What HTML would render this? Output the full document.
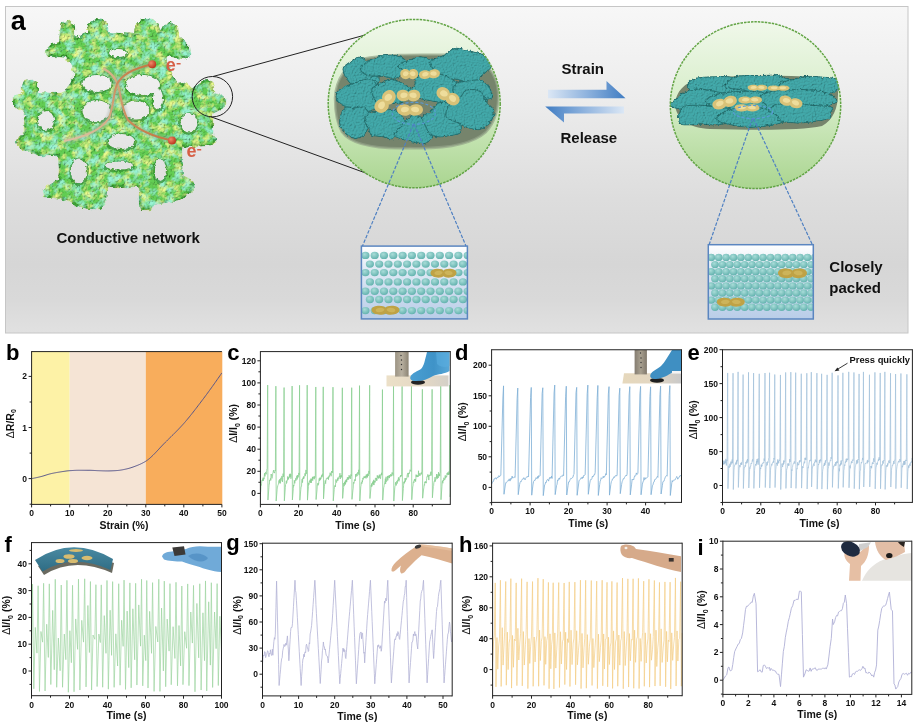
<!DOCTYPE html>
<html><head><meta charset="utf-8"><style>
html,body{margin:0;padding:0;background:#fff;}
svg{display:block;}
.tk{font-family:'Liberation Sans', Arial, sans-serif;font-weight:bold;font-size:8.5px;fill:#111;}
.at{font-family:'Liberation Sans', Arial, sans-serif;font-weight:bold;font-size:10.5px;fill:#111;}
.pl{font-family:'Liberation Sans', Arial, sans-serif;font-weight:bold;font-size:22px;fill:#000;}
.lb{font-family:'Liberation Sans', Arial, sans-serif;font-weight:bold;font-size:14px;fill:#111;}
</style></head><body>
<svg width="918" height="726" viewBox="0 0 918 726">
<rect width="918" height="726" fill="#fff"/>
<defs>
<linearGradient id="bgA" x1="0" y1="0" x2="0" y2="1">
 <stop offset="0" stop-color="#f7f7f7"/><stop offset="0.29" stop-color="#ececec"/><stop offset="0.59" stop-color="#dddddd"/><stop offset="0.79" stop-color="#d6d6d6"/><stop offset="0.9" stop-color="#d9d9d9"/><stop offset="1" stop-color="#e1e1e1"/>
</linearGradient>
<linearGradient id="bgU" gradientUnits="userSpaceOnUse" x1="0" y1="6.5" x2="0" y2="333">
 <stop offset="0" stop-color="#f7f7f7"/><stop offset="0.29" stop-color="#ececec"/><stop offset="0.59" stop-color="#dddddd"/><stop offset="0.79" stop-color="#d6d6d6"/><stop offset="0.9" stop-color="#d9d9d9"/><stop offset="1" stop-color="#e1e1e1"/>
</linearGradient>
<filter id="holeF" x="-20%" y="-20%" width="140%" height="140%">
 <feTurbulence type="fractalNoise" baseFrequency="0.3" numOctaves="2" seed="13" result="n"/>
 <feDisplacementMap in="SourceGraphic" in2="n" scale="4" xChannelSelector="R" yChannelSelector="G"/>
</filter>
<linearGradient id="circG" x1="0" y1="0" x2="0" y2="1">
 <stop offset="0" stop-color="#f0f8ea"/><stop offset="0.45" stop-color="#d8eecb"/><stop offset="1" stop-color="#aad590"/>
</linearGradient>
<linearGradient id="rectG" x1="0" y1="0" x2="0" y2="1">
 <stop offset="0" stop-color="#ffffff"/><stop offset="0.35" stop-color="#dde8f4"/><stop offset="1" stop-color="#b9cde8"/>
</linearGradient>
<linearGradient id="arR" x1="0" y1="0" x2="1" y2="0">
 <stop offset="0" stop-color="#dbe7f5"/><stop offset="0.5" stop-color="#8fb3de"/><stop offset="1" stop-color="#3f7cc2"/>
</linearGradient>
<linearGradient id="arL" x1="0" y1="0" x2="1" y2="0">
 <stop offset="0" stop-color="#3f7cc2"/><stop offset="0.5" stop-color="#8fb3de"/><stop offset="1" stop-color="#dbe7f5"/>
</linearGradient>
<radialGradient id="dotG" cx="0.4" cy="0.35" r="0.7">
 <stop offset="0" stop-color="#a8dcd8"/><stop offset="1" stop-color="#5fb0ac"/>
</radialGradient>
<radialGradient id="goldG" cx="0.45" cy="0.4" r="0.7">
 <stop offset="0" stop-color="#e8d27e"/><stop offset="1" stop-color="#b8a050"/>
</radialGradient>
<radialGradient id="redG" cx="0.35" cy="0.35" r="0.7">
 <stop offset="0" stop-color="#f08a6a"/><stop offset="1" stop-color="#b8321a"/>
</radialGradient>
<filter id="bumpy" x="-10%" y="-10%" width="120%" height="120%">
 <feTurbulence type="fractalNoise" baseFrequency="0.22" numOctaves="2" seed="3" result="n"/>
 <feDisplacementMap in="SourceGraphic" in2="n" scale="5" xChannelSelector="R" yChannelSelector="G" result="d"/>
 <feTurbulence type="fractalNoise" baseFrequency="0.12" numOctaves="3" seed="8" result="n2"/>
 <feColorMatrix in="n2" type="matrix" values="0 0 0 0 0.78  0 0 0 0 0.9  0 0 0 0 0.25  3.0 0 0 0 -1.35" result="yel"/>
 <feTurbulence type="fractalNoise" baseFrequency="0.12" numOctaves="3" seed="21" result="n3"/>
 <feColorMatrix in="n3" type="matrix" values="0 0 0 0 0.3  0 0 0 0 0.85  0 0 0 0 0.62  3.0 0 0 0 -1.35" result="teal"/>
 <feMerge result="col"><feMergeNode in="d"/><feMergeNode in="yel"/><feMergeNode in="teal"/></feMerge>
 <feTurbulence type="fractalNoise" baseFrequency="0.6" numOctaves="1" seed="5" result="t"/>
 <feDiffuseLighting in="t" surfaceScale="2.2" diffuseConstant="1.25" lighting-color="#ffffff" result="light"><feDistantLight azimuth="225" elevation="55"/></feDiffuseLighting>
 <feComposite in="col" in2="light" operator="arithmetic" k1="1.05" k2="0" k3="0" k4="0" result="lit"/>
 <feComposite in="lit" in2="d" operator="in"/>
</filter>
<filter id="fuzzy" x="-5%" y="-5%" width="110%" height="110%">
 <feTurbulence type="fractalNoise" baseFrequency="0.35" numOctaves="2" seed="5" result="n"/>
 <feDisplacementMap in="SourceGraphic" in2="n" scale="3.5" xChannelSelector="R" yChannelSelector="G" result="d"/>
 <feTurbulence type="fractalNoise" baseFrequency="0.9" numOctaves="1" seed="9" result="t"/>
 <feDiffuseLighting in="t" surfaceScale="1.6" diffuseConstant="1.15" lighting-color="#ffffff" result="light"><feDistantLight azimuth="225" elevation="55"/></feDiffuseLighting>
 <feComposite in="d" in2="light" operator="arithmetic" k1="1.1" k2="0" k3="0" k4="0" result="lit"/>
 <feComposite in="lit" in2="d" operator="in"/>
</filter>
<filter id="soft"><feGaussianBlur stdDeviation="1.2"/></filter>
<filter id="soft2"><feGaussianBlur stdDeviation="0.6"/></filter>
</defs>
<rect x="5.5" y="6.5" width="902.5" height="326.5" fill="url(#bgA)" stroke="#c6c6c6" stroke-width="1"/>
<text x="10.8" y="30" class="pl" style="font-size:27px">a</text>
<g filter="url(#bumpy)">
<path d="M48,49 L52,45 L60,43 L61,30 L63,23 L70,22 L74,28 L74,38 L80,37 L88,33 L89,24 L95,20 L103,21 L107,27 L107,33 L120,34 L135,35 L136,25 L142,20 L152,20 L157,24 L160,33 L164,26 L170,23 L177,27 L178,38 L184,43 L189,48 L190,55 L184,58 L176,57 L168,55 L164,60 L170,72 L177,84 L184,83 L188,86 L192,90 L199,84 L204,81 L211,82 L213,88 L213,93 L220,95 L225,99 L225,106 L218,110 L212,113 L212,125 L212,136 L215,140 L212,144 L205,145 L190,146 L181,147.5 L181,165 L182,176 L192,181 L194,188 L188,193 L178,200 L165,202 L152,204 L150,209 L142,209 L140,203 L140,186 L106,186 L105,203 L100,208 L90,208 L78,206 L68,200 L56,197 L45,196 L44,190 L50,184 L59,181 L60,170 L59,155 L50,155 L41,155 L30,151 L20,148 L17,143 L20,137 L25,134 L25,120 L25,111 L18,108 L14,104 L14,98 L19,95 L23,93 L23,86 L25,81 L32,80 L37,83 L37,93 L50,94 L63,94 L68,88 L74,80 L74,70 L70,62 L66,57 L58,56 L50,56 L47,53Z" fill="#60c951" stroke="#3d9e37" stroke-width="2.5" stroke-linejoin="round"/>
</g>
<g filter="url(#holeF)">
<ellipse cx="118" cy="53.8" rx="10.8" ry="5.8" fill="#2f8a2c" opacity="0.7"/>
<ellipse cx="97" cy="84.3" rx="16.3" ry="10.3" fill="#2f8a2c" opacity="0.7"/>
<ellipse cx="143" cy="85.8" rx="18.8" ry="11.8" fill="#2f8a2c" opacity="0.7"/>
<ellipse cx="158" cy="99.8" rx="6.8" ry="11.8" fill="#2f8a2c" opacity="0.7"/>
<ellipse cx="96.5" cy="111.5" rx="15.8" ry="12.3" fill="#2f8a2c" opacity="0.7"/>
<ellipse cx="136" cy="110.8" rx="14.8" ry="11.3" fill="#2f8a2c" opacity="0.7"/>
<ellipse cx="46" cy="121.3" rx="9.8" ry="11.3" fill="#2f8a2c" opacity="0.7"/>
<ellipse cx="121.5" cy="142.3" rx="15.3" ry="9.3" fill="#2f8a2c" opacity="0.7"/>
<ellipse cx="189" cy="123.5" rx="10.3" ry="11.3" fill="#2f8a2c" opacity="0.7"/>
<ellipse cx="79" cy="171.8" rx="9.8" ry="14.3" fill="#2f8a2c" opacity="0.7"/>
<ellipse cx="119" cy="166.3" rx="15.8" ry="5.8" fill="#2f8a2c" opacity="0.7"/>
<ellipse cx="160" cy="170.8" rx="7.8" ry="12.8" fill="#2f8a2c" opacity="0.7"/>
<ellipse cx="118" cy="53" rx="9" ry="4" fill="url(#bgU)"/>
<ellipse cx="97" cy="83.5" rx="14.5" ry="8.5" fill="url(#bgU)"/>
<ellipse cx="143" cy="85" rx="17" ry="10" fill="url(#bgU)"/>
<ellipse cx="158" cy="99" rx="5" ry="10" fill="url(#bgU)"/>
<ellipse cx="96.5" cy="110.7" rx="14" ry="10.5" fill="url(#bgU)"/>
<ellipse cx="136" cy="110" rx="13" ry="9.5" fill="url(#bgU)"/>
<ellipse cx="46" cy="120.5" rx="8" ry="9.5" fill="url(#bgU)"/>
<ellipse cx="121.5" cy="141.5" rx="13.5" ry="7.5" fill="url(#bgU)"/>
<ellipse cx="189" cy="122.7" rx="8.5" ry="9.5" fill="url(#bgU)"/>
<ellipse cx="79" cy="171" rx="8" ry="12.5" fill="url(#bgU)"/>
<ellipse cx="119" cy="165.5" rx="14" ry="4" fill="url(#bgU)"/>
<ellipse cx="160" cy="170" rx="6" ry="11" fill="url(#bgU)"/>
</g>
<linearGradient id="ep1" x1="0" y1="0" x2="0" y2="1"><stop offset="0" stop-color="#c47a44"/><stop offset="1" stop-color="#dcc0a0"/></linearGradient>
<linearGradient id="ep2" x1="0" y1="0" x2="0" y2="1"><stop offset="0" stop-color="#d8b48e"/><stop offset="1" stop-color="#c47a44"/></linearGradient>
<path d="M103.5,68.5 C110,72 115,77 118,85 C121,95 121,108 128,120 C140,132 160,138 172,140.5" fill="none" stroke="#9aa59a" stroke-width="6" opacity="0.35" filter="url(#soft)"/>
<path d="M152.2,64.2 C135,68 122,74 117,84 C113,95 114,105 109,118 C100,132 80,138 64,141" fill="none" stroke="#a8b0a8" stroke-width="6" opacity="0.45" filter="url(#soft)"/>
<path d="M103.5,68.5 C110,72 115,77 118,85 C121,95 121,108 128,120 C140,132 160,138 172,140.5" fill="none" stroke="url(#ep2)" stroke-width="2"/>
<path d="M152.2,64.2 C135,68 122,74 117,84 C113,95 114,105 109,118 C100,132 80,138 64,141" fill="none" stroke="url(#ep1)" stroke-width="2"/>
<circle cx="152.2" cy="64.2" r="4" fill="url(#redG)"/>
<circle cx="172" cy="140.5" r="4" fill="url(#redG)"/>
<text x="165.8" y="71.4" style="font-family:Liberation Sans,Arial,sans-serif;font-size:18px;fill:#d65f45;font-weight:bold">e</text><rect x="176.6" y="63" width="4" height="1.5" fill="#d65f45"/>
<text x="186.5" y="157.3" style="font-family:Liberation Sans,Arial,sans-serif;font-size:18px;fill:#d65f45;font-weight:bold">e</text><rect x="197.2" y="149" width="4" height="1.5" fill="#d65f45"/>
<circle cx="212.4" cy="96.7" r="20.2" fill="none" stroke="#222" stroke-width="1"/>
<line x1="213" y1="76.5" x2="367" y2="34.5" stroke="#222" stroke-width="1"/>
<line x1="211" y1="116.8" x2="367" y2="173.5" stroke="#222" stroke-width="1"/>
<text x="56.5" y="242.6" class="lb" style="font-size:15px">Conductive network</text>
<clipPath id="c414"><ellipse cx="414.2" cy="103.6" rx="86" ry="84.2"/></clipPath>
<ellipse cx="414.2" cy="103.6" rx="86" ry="84.2" fill="url(#circG)"/>
<g clip-path="url(#c414)">
<path d="M335,98 C336,80 345,66 362,59 C390,53 430,55 465,55 C485,57 497,75 498,92 C499,108 495,122 486,132 C470,146 440,149 410,148 C380,149 352,146 342,132 C336,122 335,110 335,98Z" fill="#76846c"/>
<path d="M335,98 C336,80 345,66 362,59 C390,53 430,55 465,55 C485,57 497,75 498,92 C499,108 495,122 486,132 C470,146 440,149 410,148 C380,149 352,146 342,132 C336,122 335,110 335,98Z" fill="none" stroke="#93a288" stroke-width="2.5" opacity="0.7"/>
<g filter="url(#fuzzy)"><path d="M378.7,73.0 C378.9,76.2 380.1,80.9 378.2,83.0 C376.4,85.1 371.0,84.2 367.7,85.6 C364.4,87.0 361.4,91.5 358.7,91.2 C355.9,91.0 353.2,86.5 351.1,84.2 C348.9,81.9 346.9,80.0 345.5,77.3 C344.2,74.7 342.3,70.7 343.1,68.0 C344.0,65.3 348.0,63.2 350.7,61.4 C353.3,59.6 356.2,57.1 359.0,57.0 C361.8,57.0 364.4,59.9 367.4,61.0 C370.4,62.1 375.3,61.6 377.2,63.6 C379.1,65.6 378.5,69.8 378.7,73.0Z" fill="#40a2a3" stroke="#25706f" stroke-width="1.1"/><path d="M406.6,66.5 C406.3,68.5 405.2,70.4 403.4,72.3 C401.6,74.3 399.5,77.6 395.9,78.2 C392.4,78.9 386.6,76.7 382.1,76.3 C377.6,75.8 372.6,76.6 369.0,75.6 C365.4,74.5 361.2,72.0 360.5,70.0 C359.8,68.0 363.0,65.4 364.9,63.6 C366.8,61.8 369.2,60.4 372.0,59.1 C374.9,57.9 378.0,56.6 381.9,56.0 C385.8,55.3 391.5,54.7 395.4,55.4 C399.3,56.0 403.4,58.2 405.3,60.1 C407.2,62.0 406.9,64.5 406.6,66.5Z" fill="#40a2a3" stroke="#25706f" stroke-width="1.1"/><path d="M446.1,66.5 C445.9,68.0 445.5,69.4 443.8,71.0 C442.1,72.5 439.9,74.9 436.0,75.7 C432.0,76.5 424.6,76.4 420.2,75.8 C415.8,75.3 412.9,73.5 409.5,72.4 C406.1,71.3 401.4,70.4 399.7,69.0 C398.0,67.6 397.7,65.4 399.3,63.9 C400.8,62.5 405.6,61.6 409.1,60.4 C412.5,59.2 416.0,56.9 420.0,56.7 C424.0,56.5 429.1,58.5 433.3,59.3 C437.4,60.2 442.8,60.6 445.0,61.7 C447.1,62.9 446.3,65.0 446.1,66.5Z" fill="#40a2a3" stroke="#25706f" stroke-width="1.1"/><path d="M491.7,66.0 C491.1,69.1 486.0,71.8 482.9,74.6 C479.8,77.4 477.5,82.1 473.0,82.9 C468.5,83.7 461.5,80.1 456.1,79.3 C450.8,78.6 444.3,80.0 440.6,78.4 C437.0,76.9 435.8,73.2 434.1,70.3 C432.3,67.4 428.4,63.5 430.0,61.0 C431.6,58.6 439.3,57.6 443.5,55.4 C447.6,53.3 450.4,48.9 455.0,48.2 C459.6,47.5 466.0,50.0 471.2,51.3 C476.4,52.7 482.8,53.7 486.2,56.2 C489.6,58.6 492.2,62.9 491.7,66.0Z" fill="#40a2a3" stroke="#25706f" stroke-width="1.1"/><path d="M384.0,96.5 C384.2,99.7 382.7,103.9 380.0,106.4 C377.3,108.9 372.2,110.7 368.1,111.6 C364.0,112.4 359.2,112.3 355.5,111.5 C351.8,110.8 348.9,108.7 345.9,106.9 C342.8,105.2 338.8,103.4 337.3,100.9 C335.9,98.5 335.7,94.5 337.1,92.0 C338.6,89.5 342.8,87.6 345.9,86.1 C349.0,84.6 351.8,84.1 355.8,82.8 C359.7,81.6 365.9,78.1 369.8,78.8 C373.6,79.5 376.5,84.2 378.9,87.1 C381.3,90.1 383.9,93.3 384.0,96.5Z" fill="#40a2a3" stroke="#25706f" stroke-width="1.1"/><path d="M414.4,92.0 C414.7,94.0 412.0,96.5 409.9,98.2 C407.8,100.0 404.9,101.7 401.7,102.6 C398.5,103.5 394.7,103.5 390.7,103.5 C386.7,103.6 380.6,104.2 377.6,102.8 C374.6,101.5 373.6,98.0 372.7,95.6 C371.9,93.2 371.1,90.4 372.4,88.3 C373.8,86.3 377.8,84.9 380.8,83.3 C383.8,81.8 387.0,79.3 390.4,79.1 C393.7,79.0 398.0,81.2 400.9,82.4 C403.9,83.6 405.8,84.9 408.1,86.5 C410.3,88.1 414.1,90.0 414.4,92.0Z" fill="#40a2a3" stroke="#25706f" stroke-width="1.1"/><path d="M462.1,88.5 C462.9,91.1 462.5,94.8 460.0,97.2 C457.4,99.5 451.6,101.9 446.9,102.5 C442.1,103.2 436.3,101.7 431.7,101.0 C427.1,100.3 423.4,99.7 419.2,98.3 C415.1,97.0 407.5,95.2 406.7,93.0 C406.0,90.8 413.0,88.0 414.5,85.3 C416.1,82.5 413.3,78.7 416.0,76.7 C418.8,74.7 426.0,73.3 430.9,73.1 C435.8,73.0 441.6,74.5 445.7,75.9 C449.7,77.3 452.5,79.4 455.3,81.5 C458.0,83.6 461.4,85.9 462.1,88.5Z" fill="#40a2a3" stroke="#25706f" stroke-width="1.1"/><path d="M490.8,90.5 C491.6,92.7 493.7,96.2 491.8,97.9 C490.0,99.5 483.6,99.5 479.8,100.4 C476.0,101.2 472.6,103.2 468.8,103.2 C465.1,103.2 459.7,102.0 457.1,100.4 C454.6,98.8 454.2,95.8 453.5,93.6 C452.9,91.5 452.2,89.2 453.2,87.3 C454.2,85.4 456.7,83.3 459.5,82.1 C462.2,81.0 466.1,81.0 469.5,80.7 C473.0,80.3 477.3,79.3 480.3,80.0 C483.2,80.7 485.5,83.1 487.3,84.8 C489.1,86.6 490.1,88.3 490.8,90.5Z" fill="#40a2a3" stroke="#25706f" stroke-width="1.1"/><path d="M373.2,121.0 C373.1,123.7 369.7,126.4 368.0,128.9 C366.2,131.4 365.1,134.4 362.9,136.0 C360.6,137.5 357.0,138.6 354.2,138.3 C351.4,137.9 348.4,135.9 346.1,133.9 C343.8,131.9 341.2,129.1 340.2,126.1 C339.3,123.1 339.7,119.1 340.5,116.0 C341.4,112.8 343.0,108.5 345.4,107.2 C347.8,105.9 351.9,108.0 354.8,108.0 C357.6,107.9 360.1,106.1 362.5,106.9 C364.8,107.6 367.1,110.1 368.8,112.5 C370.6,114.8 373.4,118.3 373.2,121.0Z" fill="#40a2a3" stroke="#25706f" stroke-width="1.1"/><path d="M406.0,124.5 C405.4,127.0 400.4,128.9 398.2,131.3 C396.0,133.7 395.5,137.9 392.8,138.8 C390.0,139.7 385.2,137.2 381.7,136.6 C378.1,136.0 373.8,136.6 371.6,135.2 C369.3,133.7 369.4,130.4 368.3,127.9 C367.1,125.5 364.3,122.8 364.7,120.3 C365.0,117.7 367.3,114.1 370.1,112.6 C372.9,111.0 377.5,111.5 381.4,111.0 C385.2,110.5 389.7,108.8 393.1,109.6 C396.5,110.5 399.6,113.5 401.7,116.0 C403.9,118.5 406.6,122.0 406.0,124.5Z" fill="#40a2a3" stroke="#25706f" stroke-width="1.1"/><path d="M432.4,131.0 C432.5,133.4 433.3,136.1 431.9,138.3 C430.5,140.4 427.0,143.0 423.9,143.7 C420.8,144.3 416.5,142.7 413.2,142.0 C409.9,141.4 407.6,141.0 404.4,139.9 C401.2,138.7 394.7,137.4 393.9,135.4 C393.2,133.4 398.0,130.0 399.7,127.8 C401.5,125.6 402.4,124.2 404.4,122.2 C406.5,120.2 409.0,116.2 412.3,115.6 C415.5,114.9 420.8,116.8 423.9,118.3 C427.1,119.7 429.7,122.0 431.1,124.1 C432.5,126.2 432.2,128.6 432.4,131.0Z" fill="#40a2a3" stroke="#25706f" stroke-width="1.1"/><path d="M459.2,122.0 C460.1,125.1 462.1,130.4 460.4,132.7 C458.7,135.0 452.4,135.1 449.0,135.8 C445.5,136.5 442.7,137.2 439.6,137.0 C436.5,136.7 432.6,136.0 430.3,134.2 C428.0,132.4 426.9,129.2 425.6,126.3 C424.4,123.5 421.8,119.5 422.8,116.9 C423.7,114.3 428.7,113.2 431.3,110.9 C434.0,108.5 435.7,103.8 438.9,102.7 C442.2,101.6 448.2,102.5 450.9,104.5 C453.5,106.4 453.7,111.5 455.0,114.4 C456.4,117.3 458.3,118.9 459.2,122.0Z" fill="#40a2a3" stroke="#25706f" stroke-width="1.1"/><path d="M494.0,111.0 C494.6,114.4 492.5,119.1 490.2,122.2 C487.8,125.2 483.6,128.6 479.8,129.5 C476.0,130.4 470.8,128.7 467.2,127.6 C463.6,126.4 461.7,124.5 458.2,122.7 C454.7,121.0 447.9,119.8 446.3,117.0 C444.8,114.1 446.7,108.5 448.8,105.6 C450.8,102.7 455.6,102.2 458.6,99.6 C461.5,97.1 462.9,91.6 466.5,90.2 C470.2,88.8 477.0,89.5 480.4,91.4 C483.7,93.4 484.2,98.6 486.5,101.9 C488.8,105.1 493.4,107.6 494.0,111.0Z" fill="#40a2a3" stroke="#25706f" stroke-width="1.1"/></g>
<g transform="translate(409.2,74.4) rotate(0)"><path d="M-9.0,-0.6 C-9.0,-6.3 -1.3,-6.6 0,-3.2 C1.3,-6.6 9.0,-6.3 9.0,-0.6 C9.0,5.2 1.8,6.0 0,3.2 C-1.8,6.0 -9.0,5.2 -9.0,-0.6Z" fill="#d9c278"/><path d="M-6.3,-0.3 C-6.3,-4.0 -1.3,-4.0 -0.7,-1.2 C-0.9,2.3 -6.3,2.9 -6.3,-0.3Z" fill="#eedd9c"/><path d="M6.3,-0.3 C6.3,-4.0 1.3,-4.0 0.7,-1.2 C0.9,2.3 6.3,2.9 6.3,-0.3Z" fill="#eedd9c"/></g>
<g transform="translate(429.5,74.5) rotate(-5)"><path d="M-10.5,-0.5 C-10.5,-5.5 -1.6,-5.8 0,-2.8 C1.6,-5.8 10.5,-5.5 10.5,-0.5 C10.5,4.5 2.1,5.2 0,2.8 C-2.1,5.2 -10.5,4.5 -10.5,-0.5Z" fill="#d9c278"/><path d="M-7.3,-0.2 C-7.3,-3.5 -1.6,-3.5 -0.8,-1.0 C-1.1,2.0 -7.3,2.5 -7.3,-0.2Z" fill="#eedd9c"/><path d="M7.3,-0.2 C7.3,-3.5 1.6,-3.5 0.8,-1.0 C1.1,2.0 7.3,2.5 7.3,-0.2Z" fill="#eedd9c"/></g>
<g transform="translate(385.6,101.9) rotate(-50)"><path d="M-13.0,-0.8 C-13.0,-8.2 -1.9,-8.6 0,-4.1 C1.9,-8.6 13.0,-8.2 13.0,-0.8 C13.0,6.8 2.6,7.9 0,4.1 C-2.6,7.9 -13.0,6.8 -13.0,-0.8Z" fill="#d9c278"/><path d="M-9.1,-0.4 C-9.1,-5.2 -1.9,-5.2 -1.0,-1.5 C-1.3,3.0 -9.1,3.8 -9.1,-0.4Z" fill="#eedd9c"/><path d="M9.1,-0.4 C9.1,-5.2 1.9,-5.2 1.0,-1.5 C1.3,3.0 9.1,3.8 9.1,-0.4Z" fill="#eedd9c"/></g>
<g transform="translate(408.5,96.0) rotate(0)"><path d="M-11.8,-0.7 C-11.8,-7.2 -1.8,-7.5 0,-3.6 C1.8,-7.5 11.8,-7.2 11.8,-0.7 C11.8,5.9 2.4,6.8 0,3.6 C-2.4,6.8 -11.8,5.9 -11.8,-0.7Z" fill="#d9c278"/><path d="M-8.2,-0.3 C-8.2,-4.5 -1.8,-4.5 -0.9,-1.3 C-1.2,2.6 -8.2,3.2 -8.2,-0.3Z" fill="#eedd9c"/><path d="M8.2,-0.3 C8.2,-4.5 1.8,-4.5 0.9,-1.3 C1.2,2.6 8.2,3.2 8.2,-0.3Z" fill="#eedd9c"/></g>
<g transform="translate(410.0,110.3) rotate(0)"><path d="M-13.0,-0.7 C-13.0,-7.2 -1.9,-7.5 0,-3.6 C1.9,-7.5 13.0,-7.2 13.0,-0.7 C13.0,5.9 2.6,6.8 0,3.6 C-2.6,6.8 -13.0,5.9 -13.0,-0.7Z" fill="#d9c278"/><path d="M-9.1,-0.3 C-9.1,-4.5 -1.9,-4.5 -1.0,-1.3 C-1.3,2.6 -9.1,3.2 -9.1,-0.3Z" fill="#eedd9c"/><path d="M9.1,-0.3 C9.1,-4.5 1.9,-4.5 1.0,-1.3 C1.3,2.6 9.1,3.2 9.1,-0.3Z" fill="#eedd9c"/></g>
<g transform="translate(447.8,96.7) rotate(30)"><path d="M-12.5,-0.7 C-12.5,-7.7 -1.9,-8.0 0,-3.9 C1.9,-8.0 12.5,-7.7 12.5,-0.7 C12.5,6.3 2.5,7.4 0,3.9 C-2.5,7.4 -12.5,6.3 -12.5,-0.7Z" fill="#d9c278"/><path d="M-8.8,-0.4 C-8.8,-4.9 -1.9,-4.9 -1.0,-1.4 C-1.2,2.8 -8.8,3.5 -8.8,-0.4Z" fill="#eedd9c"/><path d="M8.8,-0.4 C8.8,-4.9 1.9,-4.9 1.0,-1.4 C1.2,2.8 8.8,3.5 8.8,-0.4Z" fill="#eedd9c"/></g>
<ellipse cx="413.8" cy="113.3" rx="21.6" ry="11" fill="none" stroke="#5a9ad8" stroke-width="1.1" stroke-dasharray="3,2"/>
</g>
<ellipse cx="414.2" cy="103.6" rx="86" ry="84.2" fill="none" stroke="#62a444" stroke-width="1.5" stroke-dasharray="2.5,1"/>
<clipPath id="c755"><ellipse cx="755.5" cy="105.2" rx="85.2" ry="83.4"/></clipPath>
<ellipse cx="755.5" cy="105.2" rx="85.2" ry="83.4" fill="url(#circG)"/>
<g clip-path="url(#c755)">
<path d="M675,104 C676,92 684,82 700,79 C730,75 780,75 815,77 C830,78 839,84 838,94 C838,108 833,120 822,126 C800,131 750,130 710,129 C690,128 676,120 675,104Z" fill="#76846c"/>
<g filter="url(#fuzzy)"><path d="M750.3,86.5 C750.4,88.5 747.2,91.3 743.2,92.6 C739.3,94.0 731.9,93.8 726.6,94.7 C721.3,95.6 716.7,97.9 711.3,98.0 C705.9,98.1 697.9,96.8 694.3,95.3 C690.6,93.9 690.3,91.2 689.2,89.3 C688.1,87.3 686.5,85.4 687.6,83.6 C688.7,81.8 691.9,79.5 696.0,78.4 C700.0,77.3 706.6,77.1 712.0,76.8 C717.5,76.5 723.7,76.1 728.8,76.7 C733.9,77.3 739.3,78.8 742.9,80.4 C746.5,82.1 750.3,84.5 750.3,86.5Z" fill="#40a2a3" stroke="#25706f" stroke-width="1.1"/><path d="M798.2,84.0 C798.3,85.7 792.6,87.5 789.2,89.2 C785.8,90.8 783.0,93.2 777.7,94.0 C772.4,94.9 763.1,95.0 757.6,94.3 C752.0,93.7 749.6,91.5 744.4,90.3 C739.1,89.1 728.7,88.8 726.0,87.2 C723.4,85.7 726.3,82.9 728.4,81.0 C730.6,79.1 734.1,76.8 739.1,75.9 C744.1,75.0 752.4,75.7 758.5,75.6 C764.6,75.5 770.7,74.7 775.7,75.3 C780.7,75.8 784.8,77.5 788.5,79.0 C792.3,80.4 798.0,82.3 798.2,84.0Z" fill="#40a2a3" stroke="#25706f" stroke-width="1.1"/><path d="M844.5,87.0 C843.0,89.0 837.2,90.6 833.5,92.0 C829.8,93.3 826.7,94.1 822.2,95.3 C817.7,96.5 811.8,99.1 806.5,99.2 C801.2,99.2 794.1,97.1 790.4,95.6 C786.7,94.0 786.4,91.8 784.5,89.8 C782.5,87.8 777.4,85.4 778.8,83.6 C780.2,81.9 788.0,80.6 792.8,79.4 C797.5,78.2 801.9,76.8 807.2,76.4 C812.4,76.1 818.4,76.6 824.3,77.2 C830.1,77.8 838.7,78.5 842.1,80.1 C845.5,81.7 845.9,85.0 844.5,87.0Z" fill="#40a2a3" stroke="#25706f" stroke-width="1.1"/><path d="M721.4,102.0 C720.5,104.3 720.9,106.2 718.9,108.0 C716.8,109.8 713.3,111.4 709.2,112.7 C705.0,114.1 698.4,116.6 694.1,116.1 C689.8,115.7 687.3,111.8 683.2,110.1 C679.2,108.4 670.9,107.7 669.7,105.9 C668.6,104.0 674.1,101.1 676.1,99.0 C678.2,96.9 679.1,95.0 682.1,93.3 C685.2,91.7 689.8,89.6 694.5,89.2 C699.1,88.7 705.0,89.6 710.0,90.4 C715.0,91.3 722.6,92.4 724.5,94.3 C726.4,96.3 722.4,99.7 721.4,102.0Z" fill="#40a2a3" stroke="#25706f" stroke-width="1.1"/><path d="M775.8,101.5 C775.6,103.4 773.2,105.4 770.1,107.2 C767.0,108.9 762.7,110.9 757.3,111.8 C751.8,112.8 743.4,113.3 737.4,112.9 C731.3,112.5 726.0,110.7 721.2,109.4 C716.3,108.0 710.4,106.6 708.2,104.7 C706.0,102.9 706.0,100.2 708.0,98.3 C710.1,96.4 715.5,94.5 720.5,93.4 C725.5,92.3 732.0,91.9 738.0,91.6 C744.1,91.3 751.3,90.8 756.8,91.5 C762.3,92.2 767.9,94.0 771.1,95.6 C774.2,97.3 776.0,99.6 775.8,101.5Z" fill="#40a2a3" stroke="#25706f" stroke-width="1.1"/><path d="M836.7,102.0 C835.3,104.2 825.8,105.9 821.2,107.6 C816.6,109.3 814.4,111.0 809.2,112.2 C804.1,113.4 797.0,114.5 790.2,114.6 C783.3,114.7 772.3,114.3 768.2,112.7 C764.2,111.0 767.6,107.3 766.1,104.9 C764.6,102.5 758.8,100.6 759.4,98.4 C759.9,96.2 764.4,93.3 769.6,91.9 C774.8,90.4 783.3,90.2 790.4,89.9 C797.4,89.5 805.2,89.1 811.8,89.9 C818.4,90.7 825.8,92.5 829.9,94.5 C834.1,96.5 838.2,99.8 836.7,102.0Z" fill="#40a2a3" stroke="#25706f" stroke-width="1.1"/><path d="M738.2,115.5 C738.2,117.5 736.5,120.1 733.1,121.6 C729.7,123.2 723.1,124.4 717.8,124.8 C712.6,125.3 707.7,124.3 701.8,124.3 C695.9,124.3 686.4,125.7 682.5,124.7 C678.6,123.6 678.9,120.2 678.5,118.2 C678.0,116.3 678.9,114.8 679.7,112.9 C680.5,111.0 679.7,107.9 683.3,106.7 C686.8,105.4 695.6,105.1 701.2,105.2 C706.7,105.3 711.2,106.5 716.6,107.2 C721.9,107.9 729.5,108.0 733.1,109.4 C736.7,110.8 738.2,113.5 738.2,115.5Z" fill="#40a2a3" stroke="#25706f" stroke-width="1.1"/><path d="M784.7,117.0 C785.5,118.7 784.7,121.0 781.8,122.5 C778.8,123.9 772.4,125.1 766.8,125.9 C761.2,126.7 754.1,127.5 748.0,127.3 C741.9,127.1 735.3,126.0 730.2,124.8 C725.0,123.6 718.8,121.9 717.2,120.1 C715.5,118.3 717.9,115.9 720.3,114.2 C722.6,112.4 726.6,110.8 731.1,109.5 C735.7,108.3 742.1,106.5 747.8,106.4 C753.5,106.3 760.5,108.0 765.3,109.0 C770.1,110.1 773.6,111.1 776.8,112.5 C780.1,113.8 783.9,115.3 784.7,117.0Z" fill="#40a2a3" stroke="#25706f" stroke-width="1.1"/><path d="M831.2,113.0 C830.8,114.9 831.6,117.0 828.7,118.5 C825.8,119.9 819.3,120.8 814.0,121.5 C808.7,122.3 802.5,123.2 796.9,123.1 C791.2,123.0 783.2,122.1 779.9,120.8 C776.5,119.5 778.6,117.1 776.8,115.3 C774.9,113.5 768.4,111.8 768.5,110.0 C768.6,108.1 772.6,105.4 777.4,104.3 C782.1,103.2 791.2,103.1 797.0,103.3 C802.9,103.5 806.9,104.8 812.7,105.4 C818.4,106.0 828.4,105.7 831.5,107.0 C834.6,108.3 831.7,111.1 831.2,113.0Z" fill="#40a2a3" stroke="#25706f" stroke-width="1.1"/></g>
<g transform="translate(757.5,87.9) rotate(0)"><path d="M-9.8,-0.3 C-9.8,-3.6 -1.5,-3.8 0,-1.8 C1.5,-3.8 9.8,-3.6 9.8,-0.3 C9.8,3.0 2.0,3.5 0,1.8 C-2.0,3.5 -9.8,3.0 -9.8,-0.3Z" fill="#d9c278"/><path d="M-6.9,-0.2 C-6.9,-2.3 -1.5,-2.3 -0.8,-0.7 C-1.0,1.3 -6.9,1.6 -6.9,-0.2Z" fill="#eedd9c"/><path d="M6.9,-0.2 C6.9,-2.3 1.5,-2.3 0.8,-0.7 C1.0,1.3 6.9,1.6 6.9,-0.2Z" fill="#eedd9c"/></g>
<g transform="translate(778.5,88.3) rotate(0)"><path d="M-11.0,-0.3 C-11.0,-3.3 -1.6,-3.4 0,-1.7 C1.6,-3.4 11.0,-3.3 11.0,-0.3 C11.0,2.7 2.2,3.2 0,1.7 C-2.2,3.2 -11.0,2.7 -11.0,-0.3Z" fill="#d9c278"/><path d="M-7.7,-0.2 C-7.7,-2.1 -1.6,-2.1 -0.9,-0.6 C-1.1,1.2 -7.7,1.5 -7.7,-0.2Z" fill="#eedd9c"/><path d="M7.7,-0.2 C7.7,-2.1 1.6,-2.1 0.9,-0.6 C1.1,1.2 7.7,1.5 7.7,-0.2Z" fill="#eedd9c"/></g>
<g transform="translate(724.8,103.0) rotate(-15)"><path d="M-12.5,-0.6 C-12.5,-6.6 -1.9,-6.9 0,-3.3 C1.9,-6.9 12.5,-6.6 12.5,-0.6 C12.5,5.4 2.5,6.3 0,3.3 C-2.5,6.3 -12.5,5.4 -12.5,-0.6Z" fill="#d9c278"/><path d="M-8.8,-0.3 C-8.8,-4.2 -1.9,-4.2 -1.0,-1.2 C-1.2,2.4 -8.8,3.0 -8.8,-0.3Z" fill="#eedd9c"/><path d="M8.8,-0.3 C8.8,-4.2 1.9,-4.2 1.0,-1.2 C1.2,2.4 8.8,3.0 8.8,-0.3Z" fill="#eedd9c"/></g>
<g transform="translate(750.2,100.3) rotate(0)"><path d="M-11.8,-0.4 C-11.8,-4.4 -1.8,-4.6 0,-2.2 C1.8,-4.6 11.8,-4.4 11.8,-0.4 C11.8,3.6 2.4,4.2 0,2.2 C-2.4,4.2 -11.8,3.6 -11.8,-0.4Z" fill="#d9c278"/><path d="M-8.2,-0.2 C-8.2,-2.8 -1.8,-2.8 -0.9,-0.8 C-1.2,1.6 -8.2,2.0 -8.2,-0.2Z" fill="#eedd9c"/><path d="M8.2,-0.2 C8.2,-2.8 1.8,-2.8 0.9,-0.8 C1.2,1.6 8.2,2.0 8.2,-0.2Z" fill="#eedd9c"/></g>
<g transform="translate(747.0,108.1) rotate(0)"><path d="M-12.5,-0.4 C-12.5,-4.4 -1.9,-4.6 0,-2.2 C1.9,-4.6 12.5,-4.4 12.5,-0.4 C12.5,3.6 2.5,4.2 0,2.2 C-2.5,4.2 -12.5,3.6 -12.5,-0.4Z" fill="#d9c278"/><path d="M-8.8,-0.2 C-8.8,-2.8 -1.9,-2.8 -1.0,-0.8 C-1.2,1.6 -8.8,2.0 -8.8,-0.2Z" fill="#eedd9c"/><path d="M8.8,-0.2 C8.8,-2.8 1.9,-2.8 1.0,-0.8 C1.2,1.6 8.8,2.0 8.8,-0.2Z" fill="#eedd9c"/></g>
<g transform="translate(790.8,102.3) rotate(15)"><path d="M-11.8,-0.6 C-11.8,-6.1 -1.8,-6.3 0,-3.0 C1.8,-6.3 11.8,-6.1 11.8,-0.6 C11.8,5.0 2.4,5.8 0,3.0 C-2.4,5.8 -11.8,5.0 -11.8,-0.6Z" fill="#d9c278"/><path d="M-8.3,-0.3 C-8.3,-3.8 -1.8,-3.8 -0.9,-1.1 C-1.2,2.2 -8.3,2.8 -8.3,-0.3Z" fill="#eedd9c"/><path d="M8.3,-0.3 C8.3,-3.8 1.8,-3.8 0.9,-1.1 C1.2,2.2 8.3,2.8 8.3,-0.3Z" fill="#eedd9c"/></g>
<ellipse cx="753" cy="112" rx="19.6" ry="6.5" fill="none" stroke="#5a9ad8" stroke-width="1.1" stroke-dasharray="3,2"/>
</g>
<ellipse cx="755.5" cy="105.2" rx="85.2" ry="83.4" fill="none" stroke="#62a444" stroke-width="1.5" stroke-dasharray="2.5,1"/>
<path d="M548,89.7 L606.5,89.7 L606.5,81 L625.5,98.2 L548,98.2 Z" fill="url(#arR)"/>
<path d="M624,106.4 L545.2,106.4 L564,122.4 L564,113.6 L624,113.6 Z" fill="url(#arL)"/>
<text x="561.5" y="74.2" class="lb" style="font-size:15px">Strain</text>
<text x="560.5" y="143.2" class="lb" style="font-size:15px">Release</text>
<clipPath id="r361"><rect x="361.4" y="246.1" width="106.0" height="72.79999999999998"/></clipPath>
<rect x="361.4" y="246.1" width="106.0" height="72.79999999999998" fill="url(#rectG)"/>
<g clip-path="url(#r361)">
<ellipse cx="365.4" cy="255.4" rx="4.1" ry="3.7" fill="url(#dotG)"/>
<ellipse cx="374.7" cy="255.4" rx="4.1" ry="3.7" fill="url(#dotG)"/>
<ellipse cx="384.0" cy="255.4" rx="4.1" ry="3.7" fill="url(#dotG)"/>
<ellipse cx="393.3" cy="255.4" rx="4.1" ry="3.7" fill="url(#dotG)"/>
<ellipse cx="402.6" cy="255.4" rx="4.1" ry="3.7" fill="url(#dotG)"/>
<ellipse cx="411.9" cy="255.4" rx="4.1" ry="3.7" fill="url(#dotG)"/>
<ellipse cx="421.2" cy="255.4" rx="4.1" ry="3.7" fill="url(#dotG)"/>
<ellipse cx="430.5" cy="255.4" rx="4.1" ry="3.7" fill="url(#dotG)"/>
<ellipse cx="439.8" cy="255.4" rx="4.1" ry="3.7" fill="url(#dotG)"/>
<ellipse cx="449.1" cy="255.4" rx="4.1" ry="3.7" fill="url(#dotG)"/>
<ellipse cx="458.4" cy="255.4" rx="4.1" ry="3.7" fill="url(#dotG)"/>
<ellipse cx="467.7" cy="255.4" rx="4.1" ry="3.7" fill="url(#dotG)"/>
<ellipse cx="369.9" cy="264.1" rx="4.1" ry="3.7" fill="url(#dotG)"/>
<ellipse cx="379.2" cy="264.1" rx="4.1" ry="3.7" fill="url(#dotG)"/>
<ellipse cx="388.5" cy="264.1" rx="4.1" ry="3.7" fill="url(#dotG)"/>
<ellipse cx="397.8" cy="264.1" rx="4.1" ry="3.7" fill="url(#dotG)"/>
<ellipse cx="407.1" cy="264.1" rx="4.1" ry="3.7" fill="url(#dotG)"/>
<ellipse cx="416.4" cy="264.1" rx="4.1" ry="3.7" fill="url(#dotG)"/>
<ellipse cx="425.7" cy="264.1" rx="4.1" ry="3.7" fill="url(#dotG)"/>
<ellipse cx="435.0" cy="264.1" rx="4.1" ry="3.7" fill="url(#dotG)"/>
<ellipse cx="444.3" cy="264.1" rx="4.1" ry="3.7" fill="url(#dotG)"/>
<ellipse cx="453.6" cy="264.1" rx="4.1" ry="3.7" fill="url(#dotG)"/>
<ellipse cx="462.9" cy="264.1" rx="4.1" ry="3.7" fill="url(#dotG)"/>
<ellipse cx="365.4" cy="272.6" rx="4.1" ry="3.7" fill="url(#dotG)"/>
<ellipse cx="374.7" cy="272.6" rx="4.1" ry="3.7" fill="url(#dotG)"/>
<ellipse cx="384.0" cy="272.6" rx="4.1" ry="3.7" fill="url(#dotG)"/>
<ellipse cx="393.3" cy="272.6" rx="4.1" ry="3.7" fill="url(#dotG)"/>
<ellipse cx="402.6" cy="272.6" rx="4.1" ry="3.7" fill="url(#dotG)"/>
<ellipse cx="411.9" cy="272.6" rx="4.1" ry="3.7" fill="url(#dotG)"/>
<ellipse cx="421.2" cy="272.6" rx="4.1" ry="3.7" fill="url(#dotG)"/>
<ellipse cx="430.5" cy="272.6" rx="4.1" ry="3.7" fill="url(#dotG)"/>
<ellipse cx="439.8" cy="272.6" rx="4.1" ry="3.7" fill="url(#dotG)"/>
<ellipse cx="449.1" cy="272.6" rx="4.1" ry="3.7" fill="url(#dotG)"/>
<ellipse cx="458.4" cy="272.6" rx="4.1" ry="3.7" fill="url(#dotG)"/>
<ellipse cx="467.7" cy="272.6" rx="4.1" ry="3.7" fill="url(#dotG)"/>
<ellipse cx="369.9" cy="281.9" rx="4.1" ry="3.7" fill="url(#dotG)"/>
<ellipse cx="379.2" cy="281.9" rx="4.1" ry="3.7" fill="url(#dotG)"/>
<ellipse cx="388.5" cy="281.9" rx="4.1" ry="3.7" fill="url(#dotG)"/>
<ellipse cx="397.8" cy="281.9" rx="4.1" ry="3.7" fill="url(#dotG)"/>
<ellipse cx="407.1" cy="281.9" rx="4.1" ry="3.7" fill="url(#dotG)"/>
<ellipse cx="416.4" cy="281.9" rx="4.1" ry="3.7" fill="url(#dotG)"/>
<ellipse cx="425.7" cy="281.9" rx="4.1" ry="3.7" fill="url(#dotG)"/>
<ellipse cx="435.0" cy="281.9" rx="4.1" ry="3.7" fill="url(#dotG)"/>
<ellipse cx="444.3" cy="281.9" rx="4.1" ry="3.7" fill="url(#dotG)"/>
<ellipse cx="453.6" cy="281.9" rx="4.1" ry="3.7" fill="url(#dotG)"/>
<ellipse cx="462.9" cy="281.9" rx="4.1" ry="3.7" fill="url(#dotG)"/>
<ellipse cx="365.4" cy="291.2" rx="4.1" ry="3.7" fill="url(#dotG)"/>
<ellipse cx="374.7" cy="291.2" rx="4.1" ry="3.7" fill="url(#dotG)"/>
<ellipse cx="384.0" cy="291.2" rx="4.1" ry="3.7" fill="url(#dotG)"/>
<ellipse cx="393.3" cy="291.2" rx="4.1" ry="3.7" fill="url(#dotG)"/>
<ellipse cx="402.6" cy="291.2" rx="4.1" ry="3.7" fill="url(#dotG)"/>
<ellipse cx="411.9" cy="291.2" rx="4.1" ry="3.7" fill="url(#dotG)"/>
<ellipse cx="421.2" cy="291.2" rx="4.1" ry="3.7" fill="url(#dotG)"/>
<ellipse cx="430.5" cy="291.2" rx="4.1" ry="3.7" fill="url(#dotG)"/>
<ellipse cx="439.8" cy="291.2" rx="4.1" ry="3.7" fill="url(#dotG)"/>
<ellipse cx="449.1" cy="291.2" rx="4.1" ry="3.7" fill="url(#dotG)"/>
<ellipse cx="458.4" cy="291.2" rx="4.1" ry="3.7" fill="url(#dotG)"/>
<ellipse cx="467.7" cy="291.2" rx="4.1" ry="3.7" fill="url(#dotG)"/>
<ellipse cx="369.9" cy="299.5" rx="4.1" ry="3.7" fill="url(#dotG)"/>
<ellipse cx="379.2" cy="299.5" rx="4.1" ry="3.7" fill="url(#dotG)"/>
<ellipse cx="388.5" cy="299.5" rx="4.1" ry="3.7" fill="url(#dotG)"/>
<ellipse cx="397.8" cy="299.5" rx="4.1" ry="3.7" fill="url(#dotG)"/>
<ellipse cx="407.1" cy="299.5" rx="4.1" ry="3.7" fill="url(#dotG)"/>
<ellipse cx="416.4" cy="299.5" rx="4.1" ry="3.7" fill="url(#dotG)"/>
<ellipse cx="425.7" cy="299.5" rx="4.1" ry="3.7" fill="url(#dotG)"/>
<ellipse cx="435.0" cy="299.5" rx="4.1" ry="3.7" fill="url(#dotG)"/>
<ellipse cx="444.3" cy="299.5" rx="4.1" ry="3.7" fill="url(#dotG)"/>
<ellipse cx="453.6" cy="299.5" rx="4.1" ry="3.7" fill="url(#dotG)"/>
<ellipse cx="462.9" cy="299.5" rx="4.1" ry="3.7" fill="url(#dotG)"/>
<ellipse cx="365.4" cy="310.6" rx="4.1" ry="3.7" fill="url(#dotG)"/>
<ellipse cx="374.7" cy="310.6" rx="4.1" ry="3.7" fill="url(#dotG)"/>
<ellipse cx="384.0" cy="310.6" rx="4.1" ry="3.7" fill="url(#dotG)"/>
<ellipse cx="393.3" cy="310.6" rx="4.1" ry="3.7" fill="url(#dotG)"/>
<ellipse cx="402.6" cy="310.6" rx="4.1" ry="3.7" fill="url(#dotG)"/>
<ellipse cx="411.9" cy="310.6" rx="4.1" ry="3.7" fill="url(#dotG)"/>
<ellipse cx="421.2" cy="310.6" rx="4.1" ry="3.7" fill="url(#dotG)"/>
<ellipse cx="430.5" cy="310.6" rx="4.1" ry="3.7" fill="url(#dotG)"/>
<ellipse cx="439.8" cy="310.6" rx="4.1" ry="3.7" fill="url(#dotG)"/>
<ellipse cx="449.1" cy="310.6" rx="4.1" ry="3.7" fill="url(#dotG)"/>
<ellipse cx="458.4" cy="310.6" rx="4.1" ry="3.7" fill="url(#dotG)"/>
<ellipse cx="467.7" cy="310.6" rx="4.1" ry="3.7" fill="url(#dotG)"/>
<g transform="translate(443.5,273.5) rotate(0)"><path d="M-13.0,-0.5 C-13.0,-5.5 -1.9,-5.8 0,-2.8 C1.9,-5.8 13.0,-5.5 13.0,-0.5 C13.0,4.5 2.6,5.2 0,2.8 C-2.6,5.2 -13.0,4.5 -13.0,-0.5Z" fill="#bfa245"/><path d="M-9.1,-0.2 C-9.1,-3.5 -1.9,-3.5 -1.0,-1.0 C-1.3,2.0 -9.1,2.5 -9.1,-0.2Z" fill="#cdb45a"/><path d="M9.1,-0.2 C9.1,-3.5 1.9,-3.5 1.0,-1.0 C1.3,2.0 9.1,2.5 9.1,-0.2Z" fill="#cdb45a"/></g>
<g transform="translate(385.5,310.6) rotate(0)"><path d="M-14.0,-0.5 C-14.0,-5.5 -2.1,-5.8 0,-2.8 C2.1,-5.8 14.0,-5.5 14.0,-0.5 C14.0,4.5 2.8,5.2 0,2.8 C-2.8,5.2 -14.0,4.5 -14.0,-0.5Z" fill="#bfa245"/><path d="M-9.8,-0.2 C-9.8,-3.5 -2.1,-3.5 -1.1,-1.0 C-1.4,2.0 -9.8,2.5 -9.8,-0.2Z" fill="#cdb45a"/><path d="M9.8,-0.2 C9.8,-3.5 2.1,-3.5 1.1,-1.0 C1.4,2.0 9.8,2.5 9.8,-0.2Z" fill="#cdb45a"/></g>
</g>
<rect x="361.4" y="246.1" width="106.0" height="72.79999999999998" fill="none" stroke="#5b86c0" stroke-width="1.5"/>
<clipPath id="r708"><rect x="708.3" y="244.7" width="105.0" height="74.30000000000001"/></clipPath>
<rect x="708.3" y="244.7" width="105.0" height="74.30000000000001" fill="url(#rectG)"/>
<g clip-path="url(#r708)">
<ellipse cx="711.3" cy="257.5" rx="3.9" ry="3.7" fill="url(#dotG)"/>
<ellipse cx="718.7" cy="257.5" rx="3.9" ry="3.7" fill="url(#dotG)"/>
<ellipse cx="726.1" cy="257.5" rx="3.9" ry="3.7" fill="url(#dotG)"/>
<ellipse cx="733.5" cy="257.5" rx="3.9" ry="3.7" fill="url(#dotG)"/>
<ellipse cx="740.9" cy="257.5" rx="3.9" ry="3.7" fill="url(#dotG)"/>
<ellipse cx="748.3" cy="257.5" rx="3.9" ry="3.7" fill="url(#dotG)"/>
<ellipse cx="755.7" cy="257.5" rx="3.9" ry="3.7" fill="url(#dotG)"/>
<ellipse cx="763.1" cy="257.5" rx="3.9" ry="3.7" fill="url(#dotG)"/>
<ellipse cx="770.5" cy="257.5" rx="3.9" ry="3.7" fill="url(#dotG)"/>
<ellipse cx="777.9" cy="257.5" rx="3.9" ry="3.7" fill="url(#dotG)"/>
<ellipse cx="785.3" cy="257.5" rx="3.9" ry="3.7" fill="url(#dotG)"/>
<ellipse cx="792.7" cy="257.5" rx="3.9" ry="3.7" fill="url(#dotG)"/>
<ellipse cx="800.1" cy="257.5" rx="3.9" ry="3.7" fill="url(#dotG)"/>
<ellipse cx="807.5" cy="257.5" rx="3.9" ry="3.7" fill="url(#dotG)"/>
<ellipse cx="814.9" cy="257.5" rx="3.9" ry="3.7" fill="url(#dotG)"/>
<ellipse cx="715.0" cy="264.6" rx="3.9" ry="3.7" fill="url(#dotG)"/>
<ellipse cx="722.4" cy="264.6" rx="3.9" ry="3.7" fill="url(#dotG)"/>
<ellipse cx="729.8" cy="264.6" rx="3.9" ry="3.7" fill="url(#dotG)"/>
<ellipse cx="737.2" cy="264.6" rx="3.9" ry="3.7" fill="url(#dotG)"/>
<ellipse cx="744.6" cy="264.6" rx="3.9" ry="3.7" fill="url(#dotG)"/>
<ellipse cx="752.0" cy="264.6" rx="3.9" ry="3.7" fill="url(#dotG)"/>
<ellipse cx="759.4" cy="264.6" rx="3.9" ry="3.7" fill="url(#dotG)"/>
<ellipse cx="766.8" cy="264.6" rx="3.9" ry="3.7" fill="url(#dotG)"/>
<ellipse cx="774.2" cy="264.6" rx="3.9" ry="3.7" fill="url(#dotG)"/>
<ellipse cx="781.6" cy="264.6" rx="3.9" ry="3.7" fill="url(#dotG)"/>
<ellipse cx="789.0" cy="264.6" rx="3.9" ry="3.7" fill="url(#dotG)"/>
<ellipse cx="796.4" cy="264.6" rx="3.9" ry="3.7" fill="url(#dotG)"/>
<ellipse cx="803.8" cy="264.6" rx="3.9" ry="3.7" fill="url(#dotG)"/>
<ellipse cx="811.2" cy="264.6" rx="3.9" ry="3.7" fill="url(#dotG)"/>
<ellipse cx="711.3" cy="271.7" rx="3.9" ry="3.7" fill="url(#dotG)"/>
<ellipse cx="718.7" cy="271.7" rx="3.9" ry="3.7" fill="url(#dotG)"/>
<ellipse cx="726.1" cy="271.7" rx="3.9" ry="3.7" fill="url(#dotG)"/>
<ellipse cx="733.5" cy="271.7" rx="3.9" ry="3.7" fill="url(#dotG)"/>
<ellipse cx="740.9" cy="271.7" rx="3.9" ry="3.7" fill="url(#dotG)"/>
<ellipse cx="748.3" cy="271.7" rx="3.9" ry="3.7" fill="url(#dotG)"/>
<ellipse cx="755.7" cy="271.7" rx="3.9" ry="3.7" fill="url(#dotG)"/>
<ellipse cx="763.1" cy="271.7" rx="3.9" ry="3.7" fill="url(#dotG)"/>
<ellipse cx="770.5" cy="271.7" rx="3.9" ry="3.7" fill="url(#dotG)"/>
<ellipse cx="777.9" cy="271.7" rx="3.9" ry="3.7" fill="url(#dotG)"/>
<ellipse cx="785.3" cy="271.7" rx="3.9" ry="3.7" fill="url(#dotG)"/>
<ellipse cx="792.7" cy="271.7" rx="3.9" ry="3.7" fill="url(#dotG)"/>
<ellipse cx="800.1" cy="271.7" rx="3.9" ry="3.7" fill="url(#dotG)"/>
<ellipse cx="807.5" cy="271.7" rx="3.9" ry="3.7" fill="url(#dotG)"/>
<ellipse cx="814.9" cy="271.7" rx="3.9" ry="3.7" fill="url(#dotG)"/>
<ellipse cx="715.0" cy="278.8" rx="3.9" ry="3.7" fill="url(#dotG)"/>
<ellipse cx="722.4" cy="278.8" rx="3.9" ry="3.7" fill="url(#dotG)"/>
<ellipse cx="729.8" cy="278.8" rx="3.9" ry="3.7" fill="url(#dotG)"/>
<ellipse cx="737.2" cy="278.8" rx="3.9" ry="3.7" fill="url(#dotG)"/>
<ellipse cx="744.6" cy="278.8" rx="3.9" ry="3.7" fill="url(#dotG)"/>
<ellipse cx="752.0" cy="278.8" rx="3.9" ry="3.7" fill="url(#dotG)"/>
<ellipse cx="759.4" cy="278.8" rx="3.9" ry="3.7" fill="url(#dotG)"/>
<ellipse cx="766.8" cy="278.8" rx="3.9" ry="3.7" fill="url(#dotG)"/>
<ellipse cx="774.2" cy="278.8" rx="3.9" ry="3.7" fill="url(#dotG)"/>
<ellipse cx="781.6" cy="278.8" rx="3.9" ry="3.7" fill="url(#dotG)"/>
<ellipse cx="789.0" cy="278.8" rx="3.9" ry="3.7" fill="url(#dotG)"/>
<ellipse cx="796.4" cy="278.8" rx="3.9" ry="3.7" fill="url(#dotG)"/>
<ellipse cx="803.8" cy="278.8" rx="3.9" ry="3.7" fill="url(#dotG)"/>
<ellipse cx="811.2" cy="278.8" rx="3.9" ry="3.7" fill="url(#dotG)"/>
<ellipse cx="711.3" cy="285.9" rx="3.9" ry="3.7" fill="url(#dotG)"/>
<ellipse cx="718.7" cy="285.9" rx="3.9" ry="3.7" fill="url(#dotG)"/>
<ellipse cx="726.1" cy="285.9" rx="3.9" ry="3.7" fill="url(#dotG)"/>
<ellipse cx="733.5" cy="285.9" rx="3.9" ry="3.7" fill="url(#dotG)"/>
<ellipse cx="740.9" cy="285.9" rx="3.9" ry="3.7" fill="url(#dotG)"/>
<ellipse cx="748.3" cy="285.9" rx="3.9" ry="3.7" fill="url(#dotG)"/>
<ellipse cx="755.7" cy="285.9" rx="3.9" ry="3.7" fill="url(#dotG)"/>
<ellipse cx="763.1" cy="285.9" rx="3.9" ry="3.7" fill="url(#dotG)"/>
<ellipse cx="770.5" cy="285.9" rx="3.9" ry="3.7" fill="url(#dotG)"/>
<ellipse cx="777.9" cy="285.9" rx="3.9" ry="3.7" fill="url(#dotG)"/>
<ellipse cx="785.3" cy="285.9" rx="3.9" ry="3.7" fill="url(#dotG)"/>
<ellipse cx="792.7" cy="285.9" rx="3.9" ry="3.7" fill="url(#dotG)"/>
<ellipse cx="800.1" cy="285.9" rx="3.9" ry="3.7" fill="url(#dotG)"/>
<ellipse cx="807.5" cy="285.9" rx="3.9" ry="3.7" fill="url(#dotG)"/>
<ellipse cx="814.9" cy="285.9" rx="3.9" ry="3.7" fill="url(#dotG)"/>
<ellipse cx="715.0" cy="293.0" rx="3.9" ry="3.7" fill="url(#dotG)"/>
<ellipse cx="722.4" cy="293.0" rx="3.9" ry="3.7" fill="url(#dotG)"/>
<ellipse cx="729.8" cy="293.0" rx="3.9" ry="3.7" fill="url(#dotG)"/>
<ellipse cx="737.2" cy="293.0" rx="3.9" ry="3.7" fill="url(#dotG)"/>
<ellipse cx="744.6" cy="293.0" rx="3.9" ry="3.7" fill="url(#dotG)"/>
<ellipse cx="752.0" cy="293.0" rx="3.9" ry="3.7" fill="url(#dotG)"/>
<ellipse cx="759.4" cy="293.0" rx="3.9" ry="3.7" fill="url(#dotG)"/>
<ellipse cx="766.8" cy="293.0" rx="3.9" ry="3.7" fill="url(#dotG)"/>
<ellipse cx="774.2" cy="293.0" rx="3.9" ry="3.7" fill="url(#dotG)"/>
<ellipse cx="781.6" cy="293.0" rx="3.9" ry="3.7" fill="url(#dotG)"/>
<ellipse cx="789.0" cy="293.0" rx="3.9" ry="3.7" fill="url(#dotG)"/>
<ellipse cx="796.4" cy="293.0" rx="3.9" ry="3.7" fill="url(#dotG)"/>
<ellipse cx="803.8" cy="293.0" rx="3.9" ry="3.7" fill="url(#dotG)"/>
<ellipse cx="811.2" cy="293.0" rx="3.9" ry="3.7" fill="url(#dotG)"/>
<ellipse cx="711.3" cy="300.1" rx="3.9" ry="3.7" fill="url(#dotG)"/>
<ellipse cx="718.7" cy="300.1" rx="3.9" ry="3.7" fill="url(#dotG)"/>
<ellipse cx="726.1" cy="300.1" rx="3.9" ry="3.7" fill="url(#dotG)"/>
<ellipse cx="733.5" cy="300.1" rx="3.9" ry="3.7" fill="url(#dotG)"/>
<ellipse cx="740.9" cy="300.1" rx="3.9" ry="3.7" fill="url(#dotG)"/>
<ellipse cx="748.3" cy="300.1" rx="3.9" ry="3.7" fill="url(#dotG)"/>
<ellipse cx="755.7" cy="300.1" rx="3.9" ry="3.7" fill="url(#dotG)"/>
<ellipse cx="763.1" cy="300.1" rx="3.9" ry="3.7" fill="url(#dotG)"/>
<ellipse cx="770.5" cy="300.1" rx="3.9" ry="3.7" fill="url(#dotG)"/>
<ellipse cx="777.9" cy="300.1" rx="3.9" ry="3.7" fill="url(#dotG)"/>
<ellipse cx="785.3" cy="300.1" rx="3.9" ry="3.7" fill="url(#dotG)"/>
<ellipse cx="792.7" cy="300.1" rx="3.9" ry="3.7" fill="url(#dotG)"/>
<ellipse cx="800.1" cy="300.1" rx="3.9" ry="3.7" fill="url(#dotG)"/>
<ellipse cx="807.5" cy="300.1" rx="3.9" ry="3.7" fill="url(#dotG)"/>
<ellipse cx="814.9" cy="300.1" rx="3.9" ry="3.7" fill="url(#dotG)"/>
<ellipse cx="715.0" cy="307.2" rx="3.9" ry="3.7" fill="url(#dotG)"/>
<ellipse cx="722.4" cy="307.2" rx="3.9" ry="3.7" fill="url(#dotG)"/>
<ellipse cx="729.8" cy="307.2" rx="3.9" ry="3.7" fill="url(#dotG)"/>
<ellipse cx="737.2" cy="307.2" rx="3.9" ry="3.7" fill="url(#dotG)"/>
<ellipse cx="744.6" cy="307.2" rx="3.9" ry="3.7" fill="url(#dotG)"/>
<ellipse cx="752.0" cy="307.2" rx="3.9" ry="3.7" fill="url(#dotG)"/>
<ellipse cx="759.4" cy="307.2" rx="3.9" ry="3.7" fill="url(#dotG)"/>
<ellipse cx="766.8" cy="307.2" rx="3.9" ry="3.7" fill="url(#dotG)"/>
<ellipse cx="774.2" cy="307.2" rx="3.9" ry="3.7" fill="url(#dotG)"/>
<ellipse cx="781.6" cy="307.2" rx="3.9" ry="3.7" fill="url(#dotG)"/>
<ellipse cx="789.0" cy="307.2" rx="3.9" ry="3.7" fill="url(#dotG)"/>
<ellipse cx="796.4" cy="307.2" rx="3.9" ry="3.7" fill="url(#dotG)"/>
<ellipse cx="803.8" cy="307.2" rx="3.9" ry="3.7" fill="url(#dotG)"/>
<ellipse cx="811.2" cy="307.2" rx="3.9" ry="3.7" fill="url(#dotG)"/>
<g transform="translate(792.5,273.6) rotate(0)"><path d="M-14.5,-0.6 C-14.5,-6.1 -2.2,-6.3 0,-3.0 C2.2,-6.3 14.5,-6.1 14.5,-0.6 C14.5,5.0 2.9,5.8 0,3.0 C-2.9,5.8 -14.5,5.0 -14.5,-0.6Z" fill="#bfa245"/><path d="M-10.1,-0.3 C-10.1,-3.8 -2.2,-3.8 -1.2,-1.1 C-1.5,2.2 -10.1,2.8 -10.1,-0.3Z" fill="#cdb45a"/><path d="M10.1,-0.3 C10.1,-3.8 2.2,-3.8 1.2,-1.1 C1.5,2.2 10.1,2.8 10.1,-0.3Z" fill="#cdb45a"/></g>
<g transform="translate(730.8,302.5) rotate(0)"><path d="M-14.0,-0.5 C-14.0,-5.5 -2.1,-5.8 0,-2.8 C2.1,-5.8 14.0,-5.5 14.0,-0.5 C14.0,4.5 2.8,5.2 0,2.8 C-2.8,5.2 -14.0,4.5 -14.0,-0.5Z" fill="#bfa245"/><path d="M-9.8,-0.2 C-9.8,-3.5 -2.1,-3.5 -1.1,-1.0 C-1.4,2.0 -9.8,2.5 -9.8,-0.2Z" fill="#cdb45a"/><path d="M9.8,-0.2 C9.8,-3.5 2.1,-3.5 1.1,-1.0 C1.4,2.0 9.8,2.5 9.8,-0.2Z" fill="#cdb45a"/></g>
</g>
<rect x="708.3" y="244.7" width="105.0" height="74.30000000000001" fill="none" stroke="#5b86c0" stroke-width="1.5"/>
<g stroke="#4f80c2" stroke-width="1.2" stroke-dasharray="3.5,1.5" fill="none"><line x1="413.5" y1="124.3" x2="362.5" y2="246"/><line x1="414.2" y1="124.3" x2="466" y2="246"/><line x1="752.5" y1="118.5" x2="709" y2="245"/><line x1="753.5" y1="118.5" x2="812.5" y2="245"/></g>
<text x="829.3" y="272" class="lb" style="font-size:15px">Closely</text>
<text x="829.3" y="293" class="lb" style="font-size:15px">packed</text>
<rect x="31.6" y="351.6" width="38.1" height="152.8" fill="#fdf2a6"/>
<rect x="69.7" y="351.6" width="76.1" height="152.8" fill="#f5e4d5"/>
<rect x="145.8" y="351.6" width="76.5" height="152.8" fill="#f8ad5c"/>
<clipPath id="cpb"><rect x="31.6" y="351.6" width="190.3" height="152.79999999999995"/></clipPath>
<polyline clip-path="url(#cpb)" points="31.60,478.60 32.56,478.43 33.51,478.25 34.47,478.06 35.43,477.86 36.38,477.66 37.34,477.45 38.29,477.23 39.25,477.01 40.21,476.78 41.16,476.54 42.12,476.29 43.08,476.01 44.03,475.72 44.99,475.41 45.94,475.10 46.90,474.80 47.86,474.50 48.81,474.22 49.77,473.96 50.73,473.72 51.68,473.51 52.64,473.31 53.59,473.11 54.55,472.92 55.51,472.74 56.46,472.57 57.42,472.40 58.38,472.24 59.33,472.09 60.29,471.93 61.24,471.78 62.20,471.63 63.16,471.48 64.11,471.33 65.07,471.19 66.03,471.05 66.98,470.93 67.94,470.83 68.89,470.74 69.85,470.67 70.81,470.61 71.76,470.55 72.72,470.49 73.68,470.44 74.63,470.39 75.59,470.35 76.55,470.31 77.50,470.29 78.46,470.27 79.41,470.27 80.37,470.27 81.33,470.27 82.28,470.27 83.24,470.27 84.20,470.27 85.15,470.27 86.11,470.27 87.06,470.27 88.02,470.27 88.98,470.27 89.93,470.29 90.89,470.31 91.85,470.35 92.80,470.40 93.76,470.45 94.71,470.51 95.67,470.56 96.63,470.61 97.58,470.66 98.54,470.69 99.50,470.72 100.45,470.76 101.41,470.79 102.36,470.83 103.32,470.86 104.28,470.89 105.23,470.91 106.19,470.92 107.15,470.93 108.10,470.93 109.06,470.92 110.02,470.90 110.97,470.87 111.93,470.84 112.88,470.79 113.84,470.74 114.80,470.69 115.75,470.63 116.71,470.56 117.67,470.49 118.62,470.40 119.58,470.28 120.53,470.14 121.49,469.98 122.45,469.81 123.40,469.62 124.36,469.42 125.32,469.21 126.27,469.00 127.23,468.78 128.18,468.54 129.14,468.28 130.10,468.00 131.05,467.70 132.01,467.38 132.97,467.05 133.92,466.71 134.88,466.35 135.83,465.99 136.79,465.62 137.75,465.24 138.70,464.84 139.66,464.43 140.62,463.99 141.57,463.54 142.53,463.06 143.48,462.56 144.44,462.03 145.40,461.46 146.35,460.86 147.31,460.20 148.27,459.48 149.22,458.71 150.18,457.89 151.14,457.03 152.09,456.13 153.05,455.20 154.00,454.24 154.96,453.26 155.92,452.26 156.87,451.24 157.83,450.21 158.79,449.18 159.74,448.14 160.70,447.11 161.65,446.09 162.61,445.08 163.57,444.09 164.52,443.12 165.48,442.17 166.44,441.22 167.39,440.28 168.35,439.34 169.30,438.40 170.26,437.46 171.22,436.52 172.17,435.58 173.13,434.63 174.09,433.68 175.04,432.72 176.00,431.76 176.95,430.78 177.91,429.80 178.87,428.81 179.82,427.80 180.78,426.78 181.74,425.74 182.69,424.69 183.65,423.63 184.61,422.54 185.56,421.44 186.52,420.32 187.47,419.18 188.43,418.03 189.39,416.86 190.34,415.67 191.30,414.48 192.26,413.27 193.21,412.06 194.17,410.83 195.12,409.59 196.08,408.35 197.04,407.10 197.99,405.85 198.95,404.59 199.91,403.32 200.86,402.06 201.82,400.79 202.77,399.52 203.73,398.25 204.69,396.97 205.64,395.69 206.60,394.40 207.56,393.10 208.51,391.79 209.47,390.48 210.42,389.16 211.38,387.84 212.34,386.50 213.29,385.16 214.25,383.82 215.21,382.47 216.16,381.11 217.12,379.74 218.07,378.37 219.03,376.99 219.99,375.61 220.94,374.22 221.90,372.82" fill="none" stroke="#57568a" stroke-width="1.0" stroke-linejoin="round"/>
<line x1="31.6" y1="351.6" x2="221.9" y2="351.6" stroke="#222" stroke-width="1"/>
<line x1="31.6" y1="504.4" x2="221.9" y2="504.4" stroke="#222" stroke-width="1"/>
<line x1="31.6" y1="351.1" x2="31.6" y2="504.9" stroke="#222" stroke-width="1"/>
<line x1="31.6" y1="504.4" x2="31.6" y2="507.4" stroke="#222" stroke-width="1"/>
<text x="31.6" y="516.4" text-anchor="middle" class="tk">0</text>
<line x1="69.7" y1="504.4" x2="69.7" y2="507.4" stroke="#222" stroke-width="1"/>
<text x="69.7" y="516.4" text-anchor="middle" class="tk">10</text>
<line x1="107.7" y1="504.4" x2="107.7" y2="507.4" stroke="#222" stroke-width="1"/>
<text x="107.7" y="516.4" text-anchor="middle" class="tk">20</text>
<line x1="145.8" y1="504.4" x2="145.8" y2="507.4" stroke="#222" stroke-width="1"/>
<text x="145.8" y="516.4" text-anchor="middle" class="tk">30</text>
<line x1="183.8" y1="504.4" x2="183.8" y2="507.4" stroke="#222" stroke-width="1"/>
<text x="183.8" y="516.4" text-anchor="middle" class="tk">40</text>
<line x1="221.9" y1="504.4" x2="221.9" y2="507.4" stroke="#222" stroke-width="1"/>
<text x="221.9" y="516.4" text-anchor="middle" class="tk">50</text>
<line x1="50.6" y1="504.4" x2="50.6" y2="506.4" stroke="#222" stroke-width="1"/>
<line x1="88.7" y1="504.4" x2="88.7" y2="506.4" stroke="#222" stroke-width="1"/>
<line x1="126.8" y1="504.4" x2="126.8" y2="506.4" stroke="#222" stroke-width="1"/>
<line x1="164.8" y1="504.4" x2="164.8" y2="506.4" stroke="#222" stroke-width="1"/>
<line x1="202.9" y1="504.4" x2="202.9" y2="506.4" stroke="#222" stroke-width="1"/>
<line x1="28.6" y1="478.6" x2="31.6" y2="478.6" stroke="#222" stroke-width="1"/>
<text x="27.1" y="481.6" text-anchor="end" class="tk">0</text>
<line x1="28.6" y1="427.5" x2="31.6" y2="427.5" stroke="#222" stroke-width="1"/>
<text x="27.1" y="430.5" text-anchor="end" class="tk">1</text>
<line x1="28.6" y1="376.4" x2="31.6" y2="376.4" stroke="#222" stroke-width="1"/>
<text x="27.1" y="379.4" text-anchor="end" class="tk">2</text>
<line x1="29.6" y1="504.2" x2="31.6" y2="504.2" stroke="#222" stroke-width="1"/>
<line x1="29.6" y1="453.1" x2="31.6" y2="453.1" stroke="#222" stroke-width="1"/>
<line x1="29.6" y1="402.0" x2="31.6" y2="402.0" stroke="#222" stroke-width="1"/>
<text x="123.9" y="529.4" text-anchor="middle" class="at">Strain (%)</text>
<text transform="translate(13.5,423.7) rotate(-90)" text-anchor="middle" class="at"><tspan font-weight="normal">Δ</tspan>R/R<tspan dy="2.5" font-size="7">0</tspan></text>
<text x="6" y="360" class="pl">b</text>
<clipPath id="cpc"><rect x="260.4" y="351.6" width="189.90000000000003" height="152.79999999999995"/></clipPath>
<polyline clip-path="url(#cpc)" points="260.40,493.40 260.64,492.01 260.88,486.43 261.13,484.86 261.37,485.22 261.61,483.22 261.85,480.37 262.10,480.46 262.34,480.18 262.58,479.47 262.82,481.00 263.06,477.71 263.31,480.82 263.55,478.32 263.79,477.88 264.03,479.17 264.27,476.30 264.52,473.25 264.76,475.58 265.00,476.33 265.24,474.24 265.49,472.40 265.73,472.89 265.97,472.71 266.21,474.29 266.45,471.11 266.70,470.70 266.94,469.05 267.18,468.43 267.66,385.06 267.94,500.05 268.90,487.58 269.14,483.86 269.38,484.06 269.62,480.00 269.86,480.65 270.10,479.70 270.34,478.44 270.58,478.39 270.82,480.30 271.06,474.19 271.30,475.07 271.55,474.48 271.79,477.26 272.03,478.37 272.27,477.43 272.51,476.35 272.75,473.15 272.99,472.72 273.23,471.53 273.47,470.16 273.71,472.12 273.95,472.00 274.19,472.67 274.43,472.29 274.67,473.13 274.91,470.40 275.15,470.35 275.39,471.07 275.87,386.16 276.16,501.02 277.11,489.81 277.35,486.73 277.59,486.82 277.83,485.54 278.07,484.93 278.32,484.25 278.56,484.13 278.80,482.18 279.04,480.39 279.28,483.16 279.52,479.36 279.76,481.53 280.00,481.09 280.24,483.28 280.48,483.30 280.72,478.41 280.96,480.69 281.20,477.64 281.44,478.41 281.68,477.81 281.92,475.95 282.16,477.68 282.40,481.97 282.64,479.50 282.88,475.33 283.13,473.59 283.37,476.33 283.61,476.94 284.08,387.55 284.37,500.85 285.33,487.33 285.57,484.60 285.81,483.60 286.05,483.31 286.30,480.73 286.54,483.45 286.78,482.83 287.02,481.22 287.26,480.06 287.51,480.21 287.75,476.45 287.99,479.78 288.23,477.63 288.48,479.03 288.72,477.38 288.96,478.14 289.20,477.75 289.45,474.54 289.69,477.05 289.93,473.81 290.17,477.05 290.42,476.38 290.66,473.84 290.90,478.73 291.14,477.31 291.39,474.62 291.63,473.71 292.11,386.06 292.39,499.94 293.35,488.46 293.59,485.03 293.82,486.15 294.06,483.50 294.30,480.26 294.54,482.04 294.78,483.35 295.02,481.70 295.26,481.10 295.50,479.59 295.73,478.32 295.97,480.57 296.21,479.74 296.45,476.92 296.69,476.94 296.93,475.68 297.17,479.43 297.41,478.35 297.64,475.16 297.88,477.69 298.12,475.51 298.36,475.75 298.60,476.46 298.84,472.94 299.08,474.81 299.55,385.30 299.84,500.26 300.80,489.45 301.04,487.15 301.29,486.28 301.54,486.35 301.78,480.89 302.03,479.38 302.28,478.97 302.52,482.60 302.77,478.77 303.02,477.75 303.26,479.00 303.51,476.42 303.76,478.72 304.00,478.15 304.25,477.31 304.50,476.68 304.74,476.65 304.99,473.33 305.24,475.87 305.48,474.57 305.73,474.42 305.98,469.88 306.22,474.02 306.47,471.64 306.72,469.31 307.19,385.10 307.48,500.13 308.44,486.63 308.67,482.93 308.91,484.61 309.15,481.78 309.38,482.02 309.62,482.30 309.86,480.53 310.10,481.99 310.33,479.67 310.57,482.77 310.81,481.63 311.04,478.51 311.28,483.01 311.52,479.01 311.76,480.04 311.99,479.98 312.23,479.95 312.47,476.85 312.70,480.68 312.94,477.05 313.18,477.35 313.42,478.44 313.65,477.74 313.89,476.40 314.13,478.07 314.36,479.20 314.60,476.42 314.84,477.86 315.08,477.05 315.31,476.20 315.79,386.98 316.08,499.57 317.03,489.96 317.27,485.22 317.51,485.28 317.75,483.26 317.99,483.17 318.23,485.26 318.46,483.02 318.70,483.30 318.94,479.94 319.18,478.57 319.42,479.37 319.66,480.87 319.90,477.76 320.14,479.85 320.37,477.67 320.61,479.33 320.85,479.20 321.09,478.83 321.33,476.41 321.57,477.01 321.81,475.07 322.05,477.22 322.28,474.30 322.52,475.56 322.76,472.54 323.24,386.87 323.53,498.85 324.48,486.17 324.72,483.13 324.95,483.21 325.19,480.49 325.42,482.16 325.66,483.64 325.90,480.01 326.13,480.06 326.37,478.27 326.60,478.21 326.84,478.49 327.08,478.16 327.31,477.78 327.55,478.57 327.78,479.05 328.02,478.17 328.26,476.82 328.49,479.65 328.73,476.74 328.96,477.25 329.20,475.70 329.44,476.48 329.67,474.97 329.91,475.13 330.14,472.70 330.38,474.82 330.61,474.44 330.85,473.82 331.09,476.24 331.32,474.95 331.56,471.13 331.79,472.24 332.03,472.65 332.27,471.01 332.50,472.61 332.98,387.17 333.27,500.89 334.22,489.56 334.46,487.19 334.70,485.97 334.94,485.47 335.18,485.20 335.42,486.91 335.65,482.89 335.89,479.46 336.13,480.69 336.37,482.07 336.61,482.56 336.85,480.78 337.09,479.90 337.33,480.23 337.56,478.50 337.80,480.73 338.04,477.49 338.28,478.47 338.52,479.17 338.76,478.48 339.00,477.28 339.24,476.39 339.47,477.10 339.71,476.09 339.95,473.20 340.19,478.74 340.43,479.01 340.67,475.74 340.91,477.01 341.15,475.21 341.38,477.44 341.62,474.70 341.86,472.78 342.34,387.80 342.63,498.38 343.58,487.59 343.82,482.97 344.06,486.13 344.30,485.36 344.54,481.99 344.77,483.64 345.01,484.17 345.25,480.79 345.49,484.35 345.73,482.58 345.97,479.88 346.21,481.87 346.45,479.57 346.68,482.15 346.92,479.00 347.16,479.17 347.40,477.27 347.64,479.71 347.88,479.62 348.12,479.02 348.36,477.15 348.59,479.50 348.83,478.42 349.07,475.21 349.31,476.68 349.55,476.56 349.79,478.15 350.03,475.97 350.27,478.69 350.50,478.97 350.74,478.00 350.98,474.43 351.22,476.05 351.70,387.69 351.98,499.37 352.94,489.92 353.18,488.57 353.43,482.77 353.67,482.17 353.92,483.52 354.16,482.22 354.41,480.15 354.65,480.54 354.90,479.26 355.14,480.34 355.38,480.84 355.63,474.16 355.87,476.86 356.12,476.26 356.36,475.34 356.61,473.67 356.85,473.78 357.10,476.14 357.34,474.38 357.58,473.69 357.83,472.28 358.07,473.82 358.32,472.01 358.56,471.85 358.81,469.81 359.05,475.16 359.53,385.64 359.82,500.95 360.77,486.81 361.01,485.75 361.25,482.67 361.49,482.38 361.73,483.52 361.97,483.74 362.21,480.50 362.45,482.10 362.69,479.51 362.93,477.88 363.17,479.40 363.41,479.02 363.65,478.84 363.89,476.71 364.13,476.38 364.37,477.98 364.61,476.75 364.85,477.47 365.09,477.98 365.33,475.90 365.57,476.88 365.81,477.72 366.05,478.41 366.29,474.60 366.53,477.18 366.77,477.16 367.01,475.72 367.25,474.06 367.49,477.39 367.73,473.78 367.97,473.93 368.21,476.03 368.45,475.72 368.69,474.14 368.93,470.92 369.17,473.86 369.65,385.30 369.94,498.52 370.89,488.62 371.13,485.24 371.36,486.56 371.60,483.47 371.84,486.24 372.07,486.34 372.31,484.44 372.54,482.48 372.78,483.62 373.01,481.40 373.25,484.63 373.49,482.94 373.72,479.85 373.96,485.07 374.19,480.83 374.43,482.29 374.66,481.83 374.90,480.99 375.14,482.40 375.37,478.73 375.61,479.00 375.84,477.87 376.08,479.17 376.31,480.56 376.55,478.07 376.79,480.72 377.02,479.92 377.26,475.40 377.49,476.68 377.73,477.41 377.96,475.73 378.20,478.10 378.44,476.66 378.67,478.50 378.91,477.64 379.14,476.87 379.38,474.68 379.61,477.67 379.85,474.99 380.09,476.36 380.32,478.72 380.56,478.82 380.79,476.89 381.03,474.19 381.26,475.22 381.50,472.82 381.74,475.03 381.97,473.11 382.45,389.58 382.74,500.12 383.69,487.52 383.93,487.32 384.17,485.45 384.41,484.23 384.65,482.71 384.89,481.32 385.13,481.19 385.37,478.62 385.61,484.06 385.85,481.11 386.09,476.76 386.33,480.60 386.57,481.63 386.81,480.59 387.05,480.60 387.29,479.62 387.53,476.13 387.77,480.37 388.01,479.09 388.25,475.78 388.49,477.15 388.73,476.86 388.97,477.64 389.21,475.50 389.45,478.10 389.69,475.02 389.93,476.01 390.17,476.24 390.41,476.53 390.65,474.18 390.89,474.86 391.13,475.71 391.37,474.77 391.61,476.26 391.85,472.71 392.09,472.37 392.33,472.54 392.57,473.58 392.81,473.08 393.05,475.59 393.53,384.66 393.81,501.05 394.77,487.83 395.01,486.26 395.26,485.80 395.51,482.31 395.75,483.92 396.00,483.89 396.24,485.41 396.49,484.05 396.73,482.02 396.98,480.93 397.22,483.54 397.47,480.66 397.72,479.85 397.96,480.75 398.21,479.65 398.45,477.42 398.70,480.25 398.94,481.35 399.19,479.20 399.43,479.67 399.68,478.23 399.93,476.92 400.17,476.41 400.42,477.00 400.66,475.22 400.91,476.50 401.15,475.33 401.40,476.09 401.64,476.00 402.12,386.27 402.41,500.58 403.36,488.54 403.60,485.19 403.84,482.31 404.08,483.31 404.32,481.19 404.56,483.10 404.80,481.05 405.03,478.17 405.27,478.92 405.51,481.47 405.75,478.38 405.99,478.20 406.23,479.07 406.47,479.44 406.71,477.84 406.94,477.59 407.18,474.62 407.42,474.42 407.66,473.94 407.90,472.94 408.14,477.25 408.38,474.16 408.62,472.93 408.85,474.04 409.09,473.65 409.33,473.57 409.57,471.87 409.81,471.88 410.05,469.72 410.29,470.62 410.53,470.58 410.76,470.63 411.00,471.44 411.48,385.53 411.77,499.75 412.72,486.53 412.96,486.44 413.21,482.34 413.45,482.35 413.69,481.61 413.93,482.73 414.17,479.95 414.41,479.54 414.65,480.53 414.89,478.95 415.14,480.73 415.38,479.19 415.62,481.61 415.86,478.83 416.10,474.58 416.34,476.80 416.58,475.06 416.82,476.41 417.07,476.63 417.31,476.39 417.55,477.02 417.79,475.15 418.03,477.00 418.27,475.64 418.51,470.79 418.75,474.53 419.00,475.71 419.24,473.27 419.48,473.97 419.72,474.76 419.96,475.78 420.20,474.21 420.44,474.41 420.68,473.50 420.93,472.83 421.17,472.78 421.41,474.36 421.65,472.07 421.89,472.05 422.37,389.29 422.65,498.20 423.61,488.95 423.85,487.78 424.08,485.57 424.32,484.60 424.55,485.32 424.79,482.18 425.03,482.77 425.26,481.26 425.50,482.77 425.73,482.89 425.97,482.11 426.20,483.17 426.44,480.75 426.68,478.68 426.91,476.78 427.15,476.82 427.38,476.27 427.62,475.95 427.86,474.40 428.09,476.91 428.33,475.51 428.56,475.64 428.80,480.05 429.04,475.78 429.27,475.64 429.51,474.90 429.74,475.94 429.98,476.01 430.22,475.43 430.45,473.36 430.69,473.51 430.92,471.78 431.16,475.56 431.40,471.82 431.63,470.46 432.11,389.32 432.40,497.77 433.35,486.28 433.60,485.84 433.84,482.80 434.09,481.78 434.33,482.03 434.58,479.95 434.82,479.86 435.07,477.12 435.32,481.56 435.56,480.36 435.81,479.55 436.05,479.26 436.30,478.65 436.54,474.08 436.79,477.82 437.03,476.00 437.28,478.77 437.53,477.40 437.77,474.81 438.02,474.31 438.26,477.92 438.51,472.13 438.75,474.36 439.00,475.88 439.24,473.78 439.49,475.19 439.74,476.17 439.98,473.48 440.23,472.29 440.70,385.32 440.99,499.72 441.95,486.38 442.19,482.31 442.43,480.89 442.67,482.66 442.91,483.21 443.15,479.95 443.39,480.98 443.63,479.13 443.87,477.73 444.11,477.96 444.35,480.00 444.59,479.95 444.83,479.99 445.07,476.25 445.31,475.32 445.55,478.27 445.79,477.20 446.03,477.52 446.27,476.02 446.51,476.81 446.75,476.53 446.99,473.08 447.23,473.31 447.47,474.40 447.71,472.47 447.95,474.84 448.19,472.99 448.43,474.87 448.67,474.35 448.91,471.52 449.15,474.58 449.39,473.17 449.87,385.17 450.16,496.88 451.11,486.74 450.95,nan 450.80,nan 450.64,nan" fill="none" stroke="#8ccf93" stroke-width="0.8" stroke-linejoin="round"/>
<g>
<defs><linearGradient id="tblC" x1="0" y1="0" x2="1" y2="0"><stop offset="0" stop-color="#ece0c8"/><stop offset="0.6" stop-color="#e4d8c4"/><stop offset="1" stop-color="#d4d0c8"/></linearGradient>
<linearGradient id="glvC" x1="0" y1="0" x2="1" y2="0"><stop offset="0" stop-color="#4a9fd2"/><stop offset="0.6" stop-color="#3f93c8"/><stop offset="1" stop-color="#58a8d8"/></linearGradient>
<linearGradient id="metC" x1="0" y1="0" x2="1" y2="0"><stop offset="0" stop-color="#9c9484"/><stop offset="0.5" stop-color="#b8b0a0"/><stop offset="1" stop-color="#8c8474"/></linearGradient></defs>
<rect x="386.5" y="375.4" width="62" height="11" fill="url(#tblC)"/>
<rect x="395.1" y="352" width="13.5" height="24.6" fill="url(#metC)"/>
<circle cx="401" cy="355.5" r="0.7" fill="#333"/><circle cx="401.5" cy="360" r="0.7" fill="#333"/><circle cx="401.5" cy="364.5" r="0.7" fill="#333"/><circle cx="401.5" cy="369.5" r="0.7" fill="#333"/>
<ellipse cx="418" cy="382.3" rx="7" ry="2.4" fill="#222"/>
<path d="M427,352 L449.5,352 L449.5,371 C445,374 438,374 433,376 C428,379 423,381 416,381 C411,381 409.5,379 410.5,376.5 C412,373 418,371 421,369 C424,366 425,360 427,352Z" fill="url(#glvC)"/>
<path d="M436,352 L449.5,352 L449.5,366 C445,368 440,367 437,364Z" fill="#5aaee0" opacity="0.6"/>
</g>
<line x1="260.4" y1="351.6" x2="450.3" y2="351.6" stroke="#222" stroke-width="1"/>
<line x1="260.4" y1="504.4" x2="450.3" y2="504.4" stroke="#222" stroke-width="1"/>
<line x1="260.4" y1="351.1" x2="260.4" y2="504.9" stroke="#222" stroke-width="1"/>
<line x1="450.3" y1="351.1" x2="450.3" y2="504.9" stroke="#222" stroke-width="1"/>
<line x1="260.4" y1="504.4" x2="260.4" y2="507.4" stroke="#222" stroke-width="1"/>
<text x="260.4" y="516.4" text-anchor="middle" class="tk">0</text>
<line x1="298.6" y1="504.4" x2="298.6" y2="507.4" stroke="#222" stroke-width="1"/>
<text x="298.6" y="516.4" text-anchor="middle" class="tk">20</text>
<line x1="336.8" y1="504.4" x2="336.8" y2="507.4" stroke="#222" stroke-width="1"/>
<text x="336.8" y="516.4" text-anchor="middle" class="tk">40</text>
<line x1="375.0" y1="504.4" x2="375.0" y2="507.4" stroke="#222" stroke-width="1"/>
<text x="375.0" y="516.4" text-anchor="middle" class="tk">60</text>
<line x1="413.2" y1="504.4" x2="413.2" y2="507.4" stroke="#222" stroke-width="1"/>
<text x="413.2" y="516.4" text-anchor="middle" class="tk">80</text>
<line x1="279.5" y1="504.4" x2="279.5" y2="506.4" stroke="#222" stroke-width="1"/>
<line x1="317.7" y1="504.4" x2="317.7" y2="506.4" stroke="#222" stroke-width="1"/>
<line x1="355.9" y1="504.4" x2="355.9" y2="506.4" stroke="#222" stroke-width="1"/>
<line x1="394.1" y1="504.4" x2="394.1" y2="506.4" stroke="#222" stroke-width="1"/>
<line x1="432.3" y1="504.4" x2="432.3" y2="506.4" stroke="#222" stroke-width="1"/>
<line x1="257.4" y1="493.4" x2="260.4" y2="493.4" stroke="#222" stroke-width="1"/>
<text x="255.89999999999998" y="496.4" text-anchor="end" class="tk">0</text>
<line x1="257.4" y1="471.3" x2="260.4" y2="471.3" stroke="#222" stroke-width="1"/>
<text x="255.89999999999998" y="474.3" text-anchor="end" class="tk">20</text>
<line x1="257.4" y1="449.2" x2="260.4" y2="449.2" stroke="#222" stroke-width="1"/>
<text x="255.89999999999998" y="452.2" text-anchor="end" class="tk">40</text>
<line x1="257.4" y1="427.1" x2="260.4" y2="427.1" stroke="#222" stroke-width="1"/>
<text x="255.89999999999998" y="430.1" text-anchor="end" class="tk">60</text>
<line x1="257.4" y1="405.0" x2="260.4" y2="405.0" stroke="#222" stroke-width="1"/>
<text x="255.89999999999998" y="408.0" text-anchor="end" class="tk">80</text>
<line x1="257.4" y1="382.9" x2="260.4" y2="382.9" stroke="#222" stroke-width="1"/>
<text x="255.89999999999998" y="385.9" text-anchor="end" class="tk">100</text>
<line x1="257.4" y1="360.8" x2="260.4" y2="360.8" stroke="#222" stroke-width="1"/>
<text x="255.89999999999998" y="363.8" text-anchor="end" class="tk">120</text>
<line x1="258.4" y1="482.3" x2="260.4" y2="482.3" stroke="#222" stroke-width="1"/>
<line x1="258.4" y1="460.2" x2="260.4" y2="460.2" stroke="#222" stroke-width="1"/>
<line x1="258.4" y1="438.1" x2="260.4" y2="438.1" stroke="#222" stroke-width="1"/>
<line x1="258.4" y1="416.0" x2="260.4" y2="416.0" stroke="#222" stroke-width="1"/>
<line x1="258.4" y1="393.9" x2="260.4" y2="393.9" stroke="#222" stroke-width="1"/>
<line x1="258.4" y1="371.8" x2="260.4" y2="371.8" stroke="#222" stroke-width="1"/>
<text x="355.4" y="529.4" text-anchor="middle" class="at">Time (s)</text>
<text transform="translate(237,423.4) rotate(-90)" text-anchor="middle" class="at"><tspan font-weight="normal">Δ</tspan>I/I<tspan dy="2.5" font-size="7">0</tspan><tspan dy="-2.5"> (%)</tspan></text>
<text x="227.3" y="360" class="pl">c</text>
<clipPath id="cpd"><rect x="491.6" y="349.75" width="189.89999999999998" height="152.64999999999998"/></clipPath>
<polyline clip-path="url(#cpd)" points="491.60,484.34 492.09,482.91 492.57,482.35 493.06,481.22 493.55,481.24 494.03,478.83 494.52,478.87 495.00,478.66 495.49,477.73 495.98,478.87 496.46,479.07 496.95,477.55 497.44,477.28 497.92,477.86 498.41,476.57 498.89,475.62 499.38,476.84 499.87,476.07 500.35,475.72 500.84,475.39 502.86,398.07 503.54,385.85 504.00,494.24 505.34,484.97 505.83,482.56 506.32,482.74 506.81,482.26 507.29,481.40 507.78,480.68 508.27,480.92 508.75,479.76 509.24,478.85 509.73,480.87 510.21,480.94 510.70,478.44 511.19,479.31 511.68,477.40 512.16,476.12 512.65,478.09 513.14,478.04 513.62,477.54 514.11,477.11 514.60,477.14 515.09,477.57 517.11,398.59 517.78,388.06 518.24,494.67 519.59,484.63 520.09,482.53 520.59,481.47 521.08,481.89 521.58,480.54 522.08,479.63 522.58,479.03 523.08,479.30 523.58,477.86 524.07,477.75 524.57,478.84 525.07,479.87 525.57,478.57 526.07,477.44 526.57,477.10 527.06,477.17 527.56,477.01 528.06,475.98 528.56,476.65 530.58,397.47 531.25,387.45 531.72,495.17 533.06,484.12 533.57,481.51 534.07,481.04 534.57,480.04 535.08,480.42 535.58,479.19 536.08,477.67 536.59,478.40 537.09,478.75 537.59,476.49 538.10,478.21 538.60,475.67 539.10,476.49 539.61,475.79 540.11,475.69 542.13,393.42 542.81,387.76 543.27,495.63 544.61,484.97 545.11,484.19 545.61,482.17 546.10,482.71 546.60,480.84 547.09,479.83 547.59,479.46 548.08,479.63 548.58,481.13 549.07,479.14 549.57,477.52 550.06,478.59 550.56,477.43 551.05,478.03 551.55,476.10 552.05,478.53 554.07,393.00 554.74,385.02 555.20,494.60 556.55,485.56 557.05,484.32 557.56,479.98 558.06,480.37 558.56,480.20 559.07,478.03 559.57,479.24 560.07,477.60 560.58,476.59 561.08,476.25 561.58,476.17 562.09,475.96 562.59,476.20 563.09,474.81 563.60,475.60 565.62,396.83 566.29,386.23 566.75,495.01 568.10,485.31 568.63,481.96 569.17,482.03 569.71,480.63 570.24,479.45 570.78,478.37 571.31,478.55 571.85,478.32 572.38,477.57 572.92,477.42 573.45,474.94 573.99,474.46 576.01,392.70 576.69,387.36 577.15,495.29 578.49,485.01 579.01,480.74 579.52,480.09 580.03,479.78 580.54,479.14 581.06,477.68 581.57,477.77 582.08,478.75 582.59,476.92 583.11,477.85 583.62,475.49 584.13,475.41 584.64,475.34 585.15,474.64 587.18,393.77 587.85,385.09 588.31,494.31 589.66,483.99 590.21,480.73 590.76,479.41 591.31,479.60 591.86,478.65 592.41,476.19 592.96,476.97 593.51,475.86 594.06,474.58 594.61,474.88 595.17,472.54 597.19,397.63 597.86,385.45 598.32,495.44 599.67,484.55 600.18,481.21 600.69,480.08 601.21,477.75 601.72,478.35 602.23,478.38 602.74,477.79 603.26,476.31 603.77,477.76 604.28,476.23 604.79,476.52 605.31,475.66 605.82,473.64 606.33,474.78 608.35,393.90 609.02,386.67 609.49,495.14 610.83,484.32 611.36,481.55 611.88,480.94 612.40,479.03 612.93,479.13 613.45,478.10 613.97,476.83 614.50,477.43 615.02,475.91 615.54,475.91 616.06,475.33 616.59,476.13 617.11,475.06 619.13,395.62 619.81,388.17 620.27,493.67 621.61,484.40 622.17,481.68 622.72,480.35 623.27,478.65 623.82,479.03 624.37,477.70 624.92,476.87 625.47,475.85 626.02,475.20 626.57,475.94 627.12,474.11 629.14,395.07 629.82,386.66 630.28,494.89 631.62,484.19 632.15,479.32 632.67,480.05 633.19,479.06 633.72,479.65 634.24,477.15 634.76,475.71 635.29,476.01 635.81,475.54 636.33,472.91 636.85,474.47 637.38,474.00 637.90,473.59 639.92,393.90 640.60,386.37 641.06,494.79 642.40,484.14 642.96,482.05 643.51,480.77 644.06,477.53 644.61,479.80 645.16,479.30 645.71,477.75 646.26,478.31 646.81,477.64 647.36,477.36 647.91,476.73 649.93,396.41 650.61,386.79 651.07,494.70 652.41,485.76 652.97,484.89 653.52,482.33 654.07,482.13 654.62,479.94 655.17,479.06 655.72,479.28 656.27,478.39 656.82,477.32 657.37,476.42 657.92,477.37 659.94,394.41 660.62,386.01 661.08,494.00 662.42,485.27 662.95,481.61 663.48,481.39 664.00,481.24 664.53,479.36 665.06,477.87 665.58,476.62 666.11,475.83 666.63,475.67 667.16,476.18 669.18,395.42 669.86,385.58 670.32,495.47 671.66,484.01 672.17,480.64 672.68,481.69 673.18,480.63 673.69,479.94 674.20,479.78 674.70,480.17 675.21,479.80 675.71,478.41 676.22,477.79 676.73,476.45 677.23,477.43 677.74,479.21 678.25,477.94 678.75,477.85 679.26,477.07 679.76,475.77 680.27,475.65 680.78,475.42 681.28,476.46 681.79,475.46" fill="none" stroke="#7eaed6" stroke-width="0.8" stroke-linejoin="round"/>
<g>
<defs><linearGradient id="tblD" x1="0" y1="0" x2="1" y2="0"><stop offset="0" stop-color="#e6d8bc"/><stop offset="0.55" stop-color="#e2d6c2"/><stop offset="1" stop-color="#c9c9c9"/></linearGradient>
<linearGradient id="metD" x1="0" y1="0" x2="1" y2="0"><stop offset="0" stop-color="#847c70"/><stop offset="0.5" stop-color="#a8a090"/><stop offset="1" stop-color="#80786c"/></linearGradient></defs>
<path d="M624,373.2 L681.2,373.2 L681.2,383.4 L622.4,383.4Z" fill="url(#tblD)"/>
<rect x="634.6" y="350" width="12.3" height="24.4" fill="url(#metD)"/>
<circle cx="640.5" cy="353" r="0.7" fill="#333"/><circle cx="641" cy="358" r="0.7" fill="#333"/><circle cx="641" cy="362.5" r="0.7" fill="#333"/><circle cx="641" cy="367.5" r="0.7" fill="#333"/>
<ellipse cx="657" cy="380.3" rx="7" ry="2.4" fill="#1e1e1e"/>
<path d="M672,350 L681.2,350 L681.2,371 L673,372 C668,375 663,378.5 656,379 C651,379 649.5,377 650.5,374.5 C652,371 658,369 661,366 C665,362 668,356 672,350Z" fill="#3f8fc2"/>
<rect x="672" y="371" width="9" height="2.4" fill="#f4f4f4"/>
</g>
<line x1="491.6" y1="349.75" x2="681.5" y2="349.75" stroke="#222" stroke-width="1"/>
<line x1="491.6" y1="502.4" x2="681.5" y2="502.4" stroke="#222" stroke-width="1"/>
<line x1="491.6" y1="349.25" x2="491.6" y2="502.9" stroke="#222" stroke-width="1"/>
<line x1="681.5" y1="349.25" x2="681.5" y2="502.9" stroke="#222" stroke-width="1"/>
<line x1="491.6" y1="502.4" x2="491.6" y2="505.4" stroke="#222" stroke-width="1"/>
<text x="491.6" y="514.4" text-anchor="middle" class="tk">0</text>
<line x1="530.1" y1="502.4" x2="530.1" y2="505.4" stroke="#222" stroke-width="1"/>
<text x="530.1" y="514.4" text-anchor="middle" class="tk">10</text>
<line x1="568.6" y1="502.4" x2="568.6" y2="505.4" stroke="#222" stroke-width="1"/>
<text x="568.6" y="514.4" text-anchor="middle" class="tk">20</text>
<line x1="607.1" y1="502.4" x2="607.1" y2="505.4" stroke="#222" stroke-width="1"/>
<text x="607.1" y="514.4" text-anchor="middle" class="tk">30</text>
<line x1="645.6" y1="502.4" x2="645.6" y2="505.4" stroke="#222" stroke-width="1"/>
<text x="645.6" y="514.4" text-anchor="middle" class="tk">40</text>
<line x1="510.9" y1="502.4" x2="510.9" y2="504.4" stroke="#222" stroke-width="1"/>
<line x1="549.4" y1="502.4" x2="549.4" y2="504.4" stroke="#222" stroke-width="1"/>
<line x1="587.9" y1="502.4" x2="587.9" y2="504.4" stroke="#222" stroke-width="1"/>
<line x1="626.4" y1="502.4" x2="626.4" y2="504.4" stroke="#222" stroke-width="1"/>
<line x1="664.9" y1="502.4" x2="664.9" y2="504.4" stroke="#222" stroke-width="1"/>
<line x1="488.6" y1="487.4" x2="491.6" y2="487.4" stroke="#222" stroke-width="1"/>
<text x="487.1" y="490.4" text-anchor="end" class="tk">0</text>
<line x1="488.6" y1="456.8" x2="491.6" y2="456.8" stroke="#222" stroke-width="1"/>
<text x="487.1" y="459.8" text-anchor="end" class="tk">50</text>
<line x1="488.6" y1="426.3" x2="491.6" y2="426.3" stroke="#222" stroke-width="1"/>
<text x="487.1" y="429.3" text-anchor="end" class="tk">100</text>
<line x1="488.6" y1="395.8" x2="491.6" y2="395.8" stroke="#222" stroke-width="1"/>
<text x="487.1" y="398.8" text-anchor="end" class="tk">150</text>
<line x1="488.6" y1="365.2" x2="491.6" y2="365.2" stroke="#222" stroke-width="1"/>
<text x="487.1" y="368.2" text-anchor="end" class="tk">200</text>
<line x1="489.6" y1="472.1" x2="491.6" y2="472.1" stroke="#222" stroke-width="1"/>
<line x1="489.6" y1="441.6" x2="491.6" y2="441.6" stroke="#222" stroke-width="1"/>
<line x1="489.6" y1="411.0" x2="491.6" y2="411.0" stroke="#222" stroke-width="1"/>
<line x1="489.6" y1="380.5" x2="491.6" y2="380.5" stroke="#222" stroke-width="1"/>
<line x1="489.6" y1="502.7" x2="491.6" y2="502.7" stroke="#222" stroke-width="1"/>
<text x="588.3" y="527.4" text-anchor="middle" class="at">Time (s)</text>
<text transform="translate(466,421.7) rotate(-90)" text-anchor="middle" class="at"><tspan font-weight="normal">Δ</tspan>I/I<tspan dy="2.5" font-size="7">0</tspan><tspan dy="-2.5"> (%)</tspan></text>
<text x="455" y="359.8" class="pl">d</text>
<clipPath id="cpe"><rect x="722.5" y="349.75" width="189.89999999999998" height="152.64999999999998"/></clipPath>
<polyline clip-path="url(#cpe)" points="722.50,465.13 722.74,464.76 722.98,464.93 723.22,463.11 723.47,464.09 723.71,460.73 723.95,464.16 724.19,463.91 724.43,464.15 724.67,461.65 724.92,463.61 725.16,460.43 725.40,462.81 725.64,460.59 725.88,458.85 726.12,462.40 726.37,465.43 726.61,460.22 726.85,460.11 727.09,460.94 727.66,372.95 727.95,488.65 728.62,470.66 728.88,465.73 729.13,467.98 729.39,466.52 729.65,465.91 729.90,463.76 730.16,466.85 730.41,464.72 730.67,462.57 730.93,461.59 731.18,464.50 731.44,461.94 731.70,462.44 731.95,461.25 732.21,459.43 732.46,463.25 733.04,373.17 733.32,489.51 733.99,469.89 734.24,467.63 734.50,465.43 734.75,465.25 735.00,465.42 735.25,464.15 735.50,462.95 735.75,462.57 736.00,464.63 736.25,464.33 736.50,460.65 736.75,463.78 737.00,459.83 737.25,459.81 737.50,461.30 738.08,371.89 738.36,487.46 739.03,470.84 739.28,467.43 739.53,466.50 739.78,465.02 740.03,467.23 740.28,464.78 740.53,464.71 740.78,462.88 741.03,464.15 741.28,464.73 741.53,462.47 741.78,464.82 742.03,463.51 742.28,462.04 742.53,459.87 743.10,374.57 743.39,488.48 744.06,470.48 744.32,467.47 744.58,467.78 744.84,466.57 745.10,465.25 745.36,466.60 745.62,466.03 745.88,462.04 746.14,463.51 746.40,461.55 746.65,460.66 746.91,461.71 747.17,463.15 747.43,458.99 747.69,461.48 747.95,461.59 748.53,372.34 748.81,487.98 749.48,471.82 749.74,467.52 749.99,468.52 750.24,466.01 750.49,466.08 750.74,466.28 750.99,463.43 751.25,463.11 751.50,463.93 751.75,463.47 752.00,462.04 752.25,460.40 752.50,459.34 752.76,461.48 753.01,459.51 753.58,373.07 753.87,488.38 754.54,470.55 754.78,468.03 755.02,465.88 755.27,465.55 755.51,464.04 755.75,464.53 756.00,465.65 756.24,463.65 756.48,461.11 756.72,464.31 756.97,459.26 757.21,461.94 757.45,461.60 757.70,462.30 757.94,458.72 758.18,464.66 758.43,459.34 758.67,457.71 759.24,373.81 759.53,487.81 760.20,471.34 760.45,467.72 760.70,468.97 760.94,467.05 761.19,464.65 761.44,466.83 761.69,464.79 761.94,466.26 762.18,464.52 762.43,463.16 762.68,462.85 762.93,463.64 763.18,463.04 763.43,462.19 763.67,462.59 763.92,462.68 764.17,458.54 764.42,460.87 764.99,373.04 765.28,487.56 765.95,469.71 766.20,466.40 766.45,465.99 766.71,462.78 766.96,461.97 767.21,465.30 767.46,463.94 767.71,461.67 767.97,462.53 768.22,461.00 768.47,460.42 768.72,458.02 768.98,457.45 769.55,372.71 769.84,488.10 770.51,470.18 770.75,467.54 771.00,466.59 771.24,466.30 771.49,464.27 771.73,464.44 771.98,465.30 772.22,463.05 772.47,463.26 772.71,462.62 772.96,461.90 773.21,462.62 773.45,460.69 773.70,462.37 773.94,458.02 774.19,459.59 774.76,374.51 775.05,487.55 775.72,469.81 775.96,468.17 776.21,465.05 776.45,462.84 776.69,463.80 776.94,462.83 777.18,464.32 777.43,465.61 777.67,459.53 777.92,463.48 778.16,462.22 778.40,460.92 778.65,463.19 778.89,462.33 779.14,459.71 779.38,460.86 779.63,459.46 779.87,457.72 780.44,374.95 780.73,489.56 781.40,470.07 781.65,468.32 781.89,463.70 782.14,464.35 782.38,465.63 782.63,467.00 782.87,464.74 783.12,463.08 783.36,464.70 783.61,460.52 783.85,463.73 784.10,462.61 784.34,461.98 784.59,460.84 784.83,461.39 785.08,457.10 785.65,372.45 785.94,488.41 786.61,470.49 786.87,468.80 787.13,468.59 787.39,467.88 787.65,465.62 787.91,463.44 788.17,465.76 788.43,463.64 788.69,464.15 788.95,465.58 789.20,463.62 789.46,462.87 789.72,459.10 789.98,461.71 790.24,461.99 790.82,372.13 791.10,488.04 791.77,469.51 792.03,470.71 792.29,467.51 792.54,466.91 792.80,465.15 793.05,464.42 793.31,463.43 793.57,463.58 793.82,462.92 794.08,463.17 794.34,461.44 794.59,462.23 794.85,463.63 795.11,460.01 795.68,372.64 795.97,488.37 796.64,470.18 796.89,468.44 797.15,469.06 797.40,465.08 797.65,462.33 797.91,465.44 798.16,463.85 798.42,464.04 798.67,464.82 798.93,464.29 799.18,461.15 799.44,460.95 799.69,462.51 799.95,460.02 800.20,461.63 800.46,461.51 800.71,461.04 801.28,373.72 801.57,488.11 802.24,469.81 802.49,466.38 802.74,466.74 802.99,467.99 803.24,466.21 803.49,465.50 803.74,463.14 803.99,462.79 804.24,461.60 804.49,463.29 804.74,462.65 804.99,457.87 805.24,459.81 805.50,457.85 805.75,459.73 806.00,459.72 806.25,459.75 806.82,373.23 807.11,488.97 807.78,471.20 808.04,467.46 808.31,468.12 808.58,465.77 808.85,464.75 809.12,462.98 809.39,461.70 809.65,460.44 809.92,461.33 810.19,459.83 810.46,459.97 810.73,460.59 811.30,372.11 811.59,486.92 812.26,469.37 812.51,466.85 812.76,467.02 813.02,465.19 813.27,464.64 813.53,463.61 813.78,464.14 814.04,465.96 814.29,464.46 814.54,461.86 814.80,462.52 815.05,461.18 815.31,459.57 815.56,460.73 815.82,461.71 816.07,460.46 816.32,462.33 816.90,373.10 817.18,489.14 817.85,470.24 818.12,466.94 818.38,463.98 818.65,464.72 818.91,463.77 819.18,462.05 819.44,459.85 819.71,463.10 819.97,461.47 820.24,460.46 820.50,459.44 820.77,461.35 821.03,459.18 821.61,373.81 821.89,489.09 822.56,471.72 822.81,469.53 823.06,468.75 823.30,465.66 823.55,465.40 823.80,465.72 824.05,464.55 824.30,463.33 824.54,465.69 824.79,462.77 825.04,464.76 825.29,460.60 825.53,460.45 825.78,462.77 826.03,459.93 826.28,460.16 826.52,460.31 827.10,374.85 827.39,489.23 828.05,469.58 828.31,468.33 828.56,466.59 828.81,462.47 829.06,465.61 829.31,463.11 829.56,462.59 829.81,462.22 830.07,461.14 830.32,459.88 830.57,460.15 830.82,460.65 831.07,457.14 831.32,458.83 831.57,457.26 832.15,372.77 832.43,487.38 833.10,470.03 833.36,469.07 833.61,466.11 833.87,466.61 834.13,465.34 834.38,464.90 834.64,464.42 834.89,464.81 835.15,466.02 835.40,462.69 835.66,462.13 835.91,465.59 836.17,463.07 836.42,462.42 836.68,463.33 836.94,461.08 837.19,462.45 837.45,463.00 838.02,375.36 838.31,488.42 838.98,471.88 839.23,468.51 839.49,471.25 839.75,464.58 840.00,466.08 840.26,465.05 840.52,463.41 840.77,464.97 841.03,460.62 841.29,464.26 841.54,462.11 841.80,460.38 842.05,460.68 842.31,460.78 842.89,372.80 843.17,487.34 843.84,470.26 844.10,469.29 844.35,466.03 844.60,464.68 844.86,465.73 845.11,462.80 845.37,461.56 845.62,462.76 845.87,460.29 846.13,458.86 846.38,459.39 846.64,461.86 846.89,458.59 847.14,459.55 847.40,458.85 847.65,460.09 847.91,459.91 848.16,459.09 848.73,371.86 849.02,487.78 849.69,470.05 849.94,465.74 850.18,468.30 850.43,464.98 850.67,464.70 850.92,464.46 851.16,463.12 851.41,461.34 851.66,463.06 851.90,462.46 852.15,462.93 852.39,459.80 852.64,460.27 852.88,459.81 853.13,460.58 853.37,457.76 853.95,372.44 854.24,488.68 854.90,470.58 855.16,467.12 855.42,465.84 855.68,465.28 855.93,463.72 856.19,463.85 856.45,460.41 856.70,461.38 856.96,463.87 857.22,460.42 857.47,460.13 857.73,462.81 857.99,459.30 858.25,459.97 858.50,458.54 859.08,373.91 859.36,489.17 860.03,471.62 860.29,470.75 860.55,470.33 860.81,464.56 861.06,464.17 861.32,462.10 861.58,463.08 861.84,462.52 862.10,461.88 862.36,459.52 862.61,457.94 862.87,460.10 863.44,371.90 863.73,486.97 864.40,470.25 864.65,468.12 864.90,464.17 865.15,463.73 865.40,463.04 865.65,463.56 865.90,463.42 866.15,463.63 866.39,462.53 866.64,462.06 866.89,461.79 867.14,461.34 867.39,460.27 867.64,463.34 867.89,460.65 868.14,461.93 868.39,459.46 868.64,458.79 868.89,458.18 869.46,374.73 869.75,486.95 870.42,471.21 870.66,469.46 870.91,466.01 871.15,467.36 871.40,466.07 871.64,468.23 871.89,465.52 872.13,463.85 872.38,462.35 872.62,463.89 872.87,463.15 873.11,463.96 873.35,460.96 873.60,458.34 873.84,459.73 874.09,461.95 874.33,461.31 874.91,372.34 875.19,488.89 875.86,469.36 876.12,466.42 876.37,466.45 876.62,464.01 876.87,462.87 877.13,464.02 877.38,464.56 877.63,461.84 877.89,461.65 878.14,460.45 878.39,459.27 878.64,460.93 878.90,457.74 879.15,457.31 879.40,459.11 879.66,460.04 880.23,372.94 880.52,488.77 881.19,469.39 881.44,465.42 881.70,465.71 881.96,464.41 882.22,464.99 882.48,465.26 882.74,460.89 882.99,462.02 883.25,463.58 883.51,462.08 883.77,460.27 884.03,460.94 884.29,459.45 884.86,371.88 885.15,489.40 885.82,470.17 886.06,468.64 886.30,465.66 886.55,466.40 886.79,465.95 887.03,465.05 887.27,466.67 887.52,463.41 887.76,465.35 888.00,464.12 888.25,463.62 888.49,461.61 888.73,462.10 888.98,460.34 889.22,460.17 889.46,463.15 889.70,462.38 889.95,462.71 890.52,373.24 890.81,487.02 891.48,470.67 891.73,468.00 891.98,467.26 892.24,465.21 892.49,465.69 892.74,465.50 892.99,463.56 893.25,463.71 893.50,463.95 893.75,460.95 894.00,463.95 894.26,461.41 894.51,460.94 894.76,460.07 895.02,460.29 895.59,374.00 895.88,488.71 896.55,469.83 896.80,467.96 897.05,466.43 897.30,465.00 897.56,464.30 897.81,463.32 898.06,462.40 898.32,461.46 898.57,461.81 898.82,461.20 899.08,462.42 899.33,459.96 899.58,459.66 899.83,459.07 900.09,459.86 900.34,461.78 900.91,373.47 901.20,487.80 901.87,469.75 902.12,465.68 902.36,467.18 902.61,465.87 902.86,466.16 903.10,463.53 903.35,464.87 903.60,461.71 903.85,462.04 904.09,461.10 904.34,464.88 904.59,461.04 904.83,462.84 905.08,464.53 905.33,459.95 905.57,459.93 905.82,460.46 906.07,460.19 906.31,461.01 906.89,374.29 907.18,489.09 907.84,471.82 908.09,468.94 908.35,467.99 908.60,465.51 908.85,467.84 909.10,466.46 909.35,465.69 909.60,464.44 909.85,463.78 910.10,465.89 910.35,462.81 910.60,462.87 910.85,462.94 911.10,461.91 911.35,461.55 911.60,462.27 911.85,462.45 912.10,458.22 912.35,458.69 912.60,458.07" fill="none" stroke="#a0c0da" stroke-width="0.7" stroke-linejoin="round"/>
<text x="849.5" y="363" style="font-family:Liberation Sans,Arial,sans-serif;font-weight:bold;font-size:9.4px;fill:#111">Press quickly</text><line x1="847.5" y1="363.2" x2="837" y2="369.6" stroke="#222" stroke-width="0.9"/><path d="M834.6,371.2 L839.4,370.6 L837.4,367.5 Z" fill="#222"/>
<line x1="722.5" y1="349.75" x2="912.4" y2="349.75" stroke="#222" stroke-width="1"/>
<line x1="722.5" y1="502.4" x2="912.4" y2="502.4" stroke="#222" stroke-width="1"/>
<line x1="722.5" y1="349.25" x2="722.5" y2="502.9" stroke="#222" stroke-width="1"/>
<line x1="912.4" y1="349.25" x2="912.4" y2="502.9" stroke="#222" stroke-width="1"/>
<line x1="722.5" y1="502.4" x2="722.5" y2="505.4" stroke="#222" stroke-width="1"/>
<text x="722.5" y="514.4" text-anchor="middle" class="tk">0</text>
<line x1="760.8" y1="502.4" x2="760.8" y2="505.4" stroke="#222" stroke-width="1"/>
<text x="760.8" y="514.4" text-anchor="middle" class="tk">20</text>
<line x1="799.0" y1="502.4" x2="799.0" y2="505.4" stroke="#222" stroke-width="1"/>
<text x="799.0" y="514.4" text-anchor="middle" class="tk">40</text>
<line x1="837.2" y1="502.4" x2="837.2" y2="505.4" stroke="#222" stroke-width="1"/>
<text x="837.2" y="514.4" text-anchor="middle" class="tk">60</text>
<line x1="875.5" y1="502.4" x2="875.5" y2="505.4" stroke="#222" stroke-width="1"/>
<text x="875.5" y="514.4" text-anchor="middle" class="tk">80</text>
<line x1="741.6" y1="502.4" x2="741.6" y2="504.4" stroke="#222" stroke-width="1"/>
<line x1="779.9" y1="502.4" x2="779.9" y2="504.4" stroke="#222" stroke-width="1"/>
<line x1="818.1" y1="502.4" x2="818.1" y2="504.4" stroke="#222" stroke-width="1"/>
<line x1="856.4" y1="502.4" x2="856.4" y2="504.4" stroke="#222" stroke-width="1"/>
<line x1="894.6" y1="502.4" x2="894.6" y2="504.4" stroke="#222" stroke-width="1"/>
<line x1="719.5" y1="485.5" x2="722.5" y2="485.5" stroke="#222" stroke-width="1"/>
<text x="718.0" y="488.5" text-anchor="end" class="tk">0</text>
<line x1="719.5" y1="451.6" x2="722.5" y2="451.6" stroke="#222" stroke-width="1"/>
<text x="718.0" y="454.6" text-anchor="end" class="tk">50</text>
<line x1="719.5" y1="417.6" x2="722.5" y2="417.6" stroke="#222" stroke-width="1"/>
<text x="718.0" y="420.6" text-anchor="end" class="tk">100</text>
<line x1="719.5" y1="383.6" x2="722.5" y2="383.6" stroke="#222" stroke-width="1"/>
<text x="718.0" y="386.6" text-anchor="end" class="tk">150</text>
<line x1="719.5" y1="349.7" x2="722.5" y2="349.7" stroke="#222" stroke-width="1"/>
<text x="718.0" y="352.7" text-anchor="end" class="tk">200</text>
<line x1="720.5" y1="468.5" x2="722.5" y2="468.5" stroke="#222" stroke-width="1"/>
<line x1="720.5" y1="434.6" x2="722.5" y2="434.6" stroke="#222" stroke-width="1"/>
<line x1="720.5" y1="400.6" x2="722.5" y2="400.6" stroke="#222" stroke-width="1"/>
<line x1="720.5" y1="366.7" x2="722.5" y2="366.7" stroke="#222" stroke-width="1"/>
<line x1="720.5" y1="502.5" x2="722.5" y2="502.5" stroke="#222" stroke-width="1"/>
<text x="819.6" y="527.4" text-anchor="middle" class="at">Time (s)</text>
<text transform="translate(697,419.7) rotate(-90)" text-anchor="middle" class="at"><tspan font-weight="normal">Δ</tspan>I/I<tspan dy="2.5" font-size="7">0</tspan><tspan dy="-2.5"> (%)</tspan></text>
<text x="687.5" y="359.8" class="pl">e</text>
<clipPath id="cpf"><rect x="31.5" y="542.6" width="190.0" height="153.10000000000002"/></clipPath>
<polyline clip-path="url(#cpf)" points="31.50,657.60 32.52,584.14 33.80,688.80 35.27,627.42 36.96,653.10 38.12,585.75 39.48,691.44 40.94,631.51 42.62,642.15 43.61,583.28 45.06,690.96 46.71,624.23 48.32,657.45 49.30,583.87 50.82,684.53 52.69,610.39 54.25,669.73 55.26,579.29 56.68,687.30 58.37,638.05 60.13,670.72 61.24,585.03 62.54,687.28 64.32,634.08 65.84,659.67 66.93,580.36 68.34,692.25 69.88,630.70 71.36,662.69 72.54,585.29 74.04,691.74 75.73,618.95 77.57,649.33 78.47,579.18 79.88,690.03 81.75,620.34 83.51,642.11 84.68,578.80 86.04,686.91 87.89,605.50 89.42,652.53 90.43,581.54 91.58,690.04 93.03,635.03 94.86,639.24 95.92,584.69 97.10,686.55 98.86,634.09 100.34,642.55 101.28,584.89 102.67,687.24 104.25,615.64 105.99,653.32 106.99,580.45 108.35,689.16 110.11,610.24 111.59,655.35 112.62,581.61 114.13,687.32 115.84,633.84 117.61,666.02 118.69,583.74 120.06,685.20 121.64,620.26 123.14,646.35 124.05,580.11 125.52,689.41 127.15,611.08 128.76,667.62 129.89,582.92 131.15,687.80 132.87,608.79 134.68,659.78 135.64,583.30 136.90,685.07 138.79,604.92 140.54,646.15 141.54,579.21 142.74,685.82 144.32,635.18 145.78,660.62 146.76,580.49 148.00,688.02 149.64,611.33 151.54,653.31 152.57,582.62 154.09,691.36 155.81,626.46 157.75,641.99 158.79,579.26 159.94,691.39 161.57,608.09 163.38,670.92 164.29,581.13 165.68,686.71 167.20,619.09 169.08,651.11 169.98,583.65 171.23,684.71 173.08,626.69 174.91,658.44 176.00,582.31 177.49,685.85 178.99,625.53 180.62,665.88 181.82,586.02 182.98,684.67 184.74,631.69 186.60,648.28 187.70,583.91 188.98,685.64 190.79,612.00 192.37,643.07 193.52,585.41 194.98,691.76 196.88,603.44 198.69,657.85 199.78,583.77 201.12,690.03 202.95,612.84 204.51,660.66 205.51,580.91 206.73,690.91 208.69,601.81 210.36,665.12 211.33,582.72 212.62,687.44 214.55,612.01 216.10,648.67 217.13,583.64 218.31,685.52 219.87,616.25 221.83,659.37 222.74,582.55 224.26,691.64 225.87,627.41 227.81,664.78" fill="none" stroke="#9cd49f" stroke-width="0.7" stroke-linejoin="round"/>
<g>
<defs><linearGradient id="filmF" x1="0" y1="0" x2="0" y2="1"><stop offset="0" stop-color="#4a8aa2"/><stop offset="1" stop-color="#2e6c84"/></linearGradient></defs>
<path d="M38,566 Q74,548 114,563 L112,573 Q74,556 44,575 Z" fill="#6a6a60"/>
<path d="M35,560 Q72.5,535 113,559 L110.5,570 Q72.5,553 42.5,571.5 Z" fill="url(#filmF)"/>
<ellipse cx="60" cy="561" rx="4.5" ry="2" fill="#d8bc70"/><ellipse cx="69" cy="556.5" rx="5.5" ry="2.3" fill="#d8bc70"/><ellipse cx="73" cy="561" rx="5" ry="2" fill="#d8bc70"/>
<ellipse cx="87" cy="558" rx="5.5" ry="2.2" fill="#d8bc70"/><ellipse cx="76" cy="550.5" rx="7" ry="1.5" fill="#d8bc70"/>
<path d="M162,556.5 C163,552.5 168,551.5 174,551.2 L186,549 C192,546 200,545.8 208,546.8 L221.2,546.8 L221.2,572 C212,571.5 204,568.5 198,566.5 C192,565 186,563 182,561.5 C176,561.5 168,561 164,559.5 Z" fill="#70aad8"/>
<path d="M188,556 C194,552 203,553 208,558 C205,563 196,563 188,556Z" fill="#4f8cc2" opacity="0.75"/>
<path d="M172.3,547.5 L184,546.2 L185.5,554.5 L174.5,556 Z" fill="#3c3a38"/>
</g>
<line x1="31.5" y1="542.6" x2="221.5" y2="542.6" stroke="#222" stroke-width="1"/>
<line x1="31.5" y1="695.7" x2="221.5" y2="695.7" stroke="#222" stroke-width="1"/>
<line x1="31.5" y1="542.1" x2="31.5" y2="696.2" stroke="#222" stroke-width="1"/>
<line x1="221.5" y1="542.1" x2="221.5" y2="696.2" stroke="#222" stroke-width="1"/>
<line x1="31.5" y1="695.7" x2="31.5" y2="698.7" stroke="#222" stroke-width="1"/>
<text x="31.5" y="707.7" text-anchor="middle" class="tk">0</text>
<line x1="69.5" y1="695.7" x2="69.5" y2="698.7" stroke="#222" stroke-width="1"/>
<text x="69.5" y="707.7" text-anchor="middle" class="tk">20</text>
<line x1="107.5" y1="695.7" x2="107.5" y2="698.7" stroke="#222" stroke-width="1"/>
<text x="107.5" y="707.7" text-anchor="middle" class="tk">40</text>
<line x1="145.5" y1="695.7" x2="145.5" y2="698.7" stroke="#222" stroke-width="1"/>
<text x="145.5" y="707.7" text-anchor="middle" class="tk">60</text>
<line x1="183.5" y1="695.7" x2="183.5" y2="698.7" stroke="#222" stroke-width="1"/>
<text x="183.5" y="707.7" text-anchor="middle" class="tk">80</text>
<line x1="221.5" y1="695.7" x2="221.5" y2="698.7" stroke="#222" stroke-width="1"/>
<text x="221.5" y="707.7" text-anchor="middle" class="tk">100</text>
<line x1="50.5" y1="695.7" x2="50.5" y2="697.7" stroke="#222" stroke-width="1"/>
<line x1="88.5" y1="695.7" x2="88.5" y2="697.7" stroke="#222" stroke-width="1"/>
<line x1="126.5" y1="695.7" x2="126.5" y2="697.7" stroke="#222" stroke-width="1"/>
<line x1="164.5" y1="695.7" x2="164.5" y2="697.7" stroke="#222" stroke-width="1"/>
<line x1="202.5" y1="695.7" x2="202.5" y2="697.7" stroke="#222" stroke-width="1"/>
<line x1="28.5" y1="671.0" x2="31.5" y2="671.0" stroke="#222" stroke-width="1"/>
<text x="27.0" y="674.0" text-anchor="end" class="tk">0</text>
<line x1="28.5" y1="644.2" x2="31.5" y2="644.2" stroke="#222" stroke-width="1"/>
<text x="27.0" y="647.2" text-anchor="end" class="tk">10</text>
<line x1="28.5" y1="617.4" x2="31.5" y2="617.4" stroke="#222" stroke-width="1"/>
<text x="27.0" y="620.4" text-anchor="end" class="tk">20</text>
<line x1="28.5" y1="590.6" x2="31.5" y2="590.6" stroke="#222" stroke-width="1"/>
<text x="27.0" y="593.6" text-anchor="end" class="tk">30</text>
<line x1="28.5" y1="563.8" x2="31.5" y2="563.8" stroke="#222" stroke-width="1"/>
<text x="27.0" y="566.8" text-anchor="end" class="tk">40</text>
<line x1="29.5" y1="657.6" x2="31.5" y2="657.6" stroke="#222" stroke-width="1"/>
<line x1="29.5" y1="630.8" x2="31.5" y2="630.8" stroke="#222" stroke-width="1"/>
<line x1="29.5" y1="604.0" x2="31.5" y2="604.0" stroke="#222" stroke-width="1"/>
<line x1="29.5" y1="577.2" x2="31.5" y2="577.2" stroke="#222" stroke-width="1"/>
<line x1="29.5" y1="550.4" x2="31.5" y2="550.4" stroke="#222" stroke-width="1"/>
<line x1="29.5" y1="684.4" x2="31.5" y2="684.4" stroke="#222" stroke-width="1"/>
<text x="126.5" y="719.4" text-anchor="middle" class="at">Time (s)</text>
<text transform="translate(10.2,615.2) rotate(-90)" text-anchor="middle" class="at"><tspan font-weight="normal">Δ</tspan>I/I<tspan dy="2.5" font-size="7">0</tspan><tspan dy="-2.5"> (%)</tspan></text>
<text x="4.5" y="551.7" class="pl">f</text>
<clipPath id="cpg"><rect x="262.5" y="543.2" width="189.7" height="152.69999999999993"/></clipPath>
<polyline clip-path="url(#cpg)" points="262.50,663.76 263.04,656.98 263.58,655.06 264.12,655.72 264.67,651.58 265.15,652.22 265.63,657.60 266.11,655.93 266.59,654.65 267.07,652.83 267.55,650.71 268.04,651.49 268.52,656.02 269.00,656.80 269.48,653.19 269.96,653.97 270.44,649.84 270.92,652.84 271.40,655.43 271.89,655.06 272.37,649.22 272.85,655.25 273.33,648.10 273.87,641.61 274.41,637.66 274.86,639.22 275.32,634.18 275.95,607.65 276.58,581.11 277.08,601.99 277.59,622.87 278.10,643.75 278.60,664.63 279.11,685.51 279.59,680.21 280.07,674.70 280.55,669.85 281.09,662.96 281.63,658.88 282.17,657.65 282.72,650.71 283.17,648.87 283.62,646.60 284.07,644.38 284.52,646.36 284.95,646.46 285.39,645.62 285.82,643.20 286.25,645.18 286.69,642.01 287.41,635.92 287.89,643.07 288.37,649.99 288.85,660.72 289.29,655.18 289.72,646.14 290.15,639.38 290.59,631.62 291.02,627.57 291.50,627.49 291.98,627.55 292.46,623.74 292.97,615.04 293.47,606.34 293.98,597.64 294.48,588.94 294.99,580.24 295.47,590.48 295.95,592.70 296.43,600.25 296.90,608.78 297.37,617.30 297.84,625.83 298.31,634.35 298.78,642.88 299.25,651.41 299.72,659.93 300.19,668.46 300.66,676.98 301.13,685.51 301.58,676.64 302.03,671.25 302.48,663.52 302.93,658.71 303.38,658.70 303.83,654.24 304.29,656.89 304.74,652.45 305.19,651.82 305.64,652.72 306.09,645.76 306.54,644.19 306.98,645.94 307.41,648.26 307.84,648.13 308.27,651.52 308.71,650.71 309.19,642.76 309.67,643.97 310.15,633.99 310.63,631.96 311.11,628.85 311.60,625.48 312.10,618.52 312.61,611.56 313.11,604.60 313.62,597.64 314.12,590.68 314.85,580.24 315.39,588.93 315.93,604.60 316.41,613.37 316.89,622.14 317.37,630.90 317.85,639.67 318.33,648.44 318.82,657.21 319.30,665.97 319.78,674.74 320.26,683.51 320.69,676.28 321.13,669.65 321.56,660.95 321.99,658.02 322.43,650.71 322.91,648.02 323.39,641.97 323.87,646.36 324.35,646.58 324.83,649.81 325.31,648.97 325.80,653.08 326.28,655.49 326.76,655.55 327.24,656.02 327.72,658.79 328.20,662.89 328.64,658.35 329.08,653.80 329.53,649.26 329.97,644.72 330.41,640.17 330.85,635.63 331.29,631.09 331.73,626.54 332.17,622.00 332.68,613.65 333.18,605.30 333.69,596.94 334.19,588.59 334.70,580.24 335.16,589.65 335.62,599.06 336.08,608.48 336.54,617.89 337.00,627.30 337.46,636.71 337.92,646.12 338.38,655.53 338.84,664.95 339.29,674.36 339.75,683.77 340.22,678.67 340.68,673.58 341.15,668.48 341.61,663.39 342.07,658.29 342.54,653.20 343.00,648.10 343.48,651.40 343.97,648.85 344.45,651.58 344.93,650.36 345.41,657.30 345.89,658.54 346.37,652.45 346.85,646.36 347.33,640.27 347.82,634.18 348.30,628.09 348.78,622.00 349.23,616.78 349.68,611.56 350.13,606.34 350.58,601.12 351.04,595.90 351.49,590.68 351.94,585.46 352.39,580.24 352.83,591.74 353.27,603.25 353.71,614.75 354.15,626.25 354.60,637.76 355.04,649.26 355.48,660.76 355.92,672.27 356.36,683.77 356.82,676.93 357.29,670.10 357.75,663.26 358.22,656.43 358.68,649.59 359.14,642.76 359.61,635.92 360.09,633.07 360.57,632.35 361.05,631.98 361.53,638.74 362.02,632.82 362.50,633.31 362.93,639.36 363.36,644.89 363.80,653.23 364.23,652.19 364.66,662.89 365.17,654.36 365.67,645.84 366.18,637.31 366.68,628.79 367.19,620.26 367.65,614.54 368.12,608.83 368.58,603.11 369.05,597.39 369.51,591.67 369.97,585.96 370.44,580.24 370.87,590.59 371.31,600.95 371.74,611.30 372.17,621.65 372.61,632.00 373.04,642.36 373.47,652.71 373.90,663.06 374.34,673.42 374.77,683.77 375.25,677.39 375.73,671.01 376.21,664.63 376.70,658.25 377.18,651.87 377.66,645.49 378.11,646.68 378.56,644.77 379.01,645.74 379.46,648.10 379.90,648.53 380.33,648.07 380.76,645.74 381.20,651.25 381.63,648.97 382.11,641.00 382.59,633.02 383.07,625.05 383.56,617.07 384.04,609.10 384.52,601.12 384.95,603.10 385.38,600.81 385.82,598.20 386.25,600.92 386.68,599.38 387.23,587.79 387.77,580.24 388.22,593.07 388.67,605.91 389.12,618.74 389.57,631.57 390.02,644.40 390.47,657.24 390.93,670.07 391.38,682.90 391.84,676.69 392.31,670.47 392.77,664.26 393.23,658.04 393.70,651.83 394.16,645.61 394.63,639.40 395.09,638.82 395.55,639.77 396.02,636.30 396.48,636.37 396.95,633.59 397.41,635.66 397.88,631.57 398.33,632.61 398.78,634.58 399.23,638.37 399.68,639.40 400.13,634.62 400.58,629.83 401.03,625.05 401.49,620.26 401.94,615.48 402.39,610.69 402.84,605.91 403.29,601.12 403.77,599.69 404.25,595.52 404.73,593.81 405.22,586.45 405.70,586.69 406.18,580.24 406.66,597.35 407.14,614.46 407.62,631.57 408.10,648.68 408.58,665.79 409.07,682.90 409.55,676.09 410.03,669.27 410.51,662.46 410.99,655.64 411.47,648.83 411.95,642.01 412.44,641.89 412.92,640.00 413.40,634.00 413.88,635.86 414.36,633.48 414.84,631.57 415.32,635.75 415.80,633.96 416.29,635.81 416.77,642.15 417.25,645.71 417.73,648.97 418.24,639.40 418.74,629.83 419.25,620.26 419.75,610.69 420.26,601.12 420.72,598.83 421.19,593.59 421.65,591.51 422.11,590.07 422.58,589.75 423.04,584.37 423.51,580.24 423.96,593.07 424.41,605.91 424.86,618.74 425.31,631.57 425.76,644.40 426.21,657.24 426.66,670.07 427.12,682.90 427.62,674.72 428.13,666.54 428.63,658.37 429.14,650.19 429.64,642.01 430.15,639.64 430.65,636.54 431.16,634.13 431.66,632.24 432.17,629.83 432.65,639.60 433.13,650.18 433.61,658.54 434.10,650.71 434.58,642.88 435.06,635.05 435.54,627.22 436.02,619.39 436.50,611.56 436.98,607.36 437.46,606.82 437.95,601.87 438.43,596.38 438.91,592.82 439.39,591.03 439.87,588.35 440.35,583.10 440.83,580.24 441.30,594.91 441.76,609.57 442.23,624.24 442.69,638.90 443.15,653.57 443.62,668.23 444.08,682.90 444.55,676.69 445.01,670.47 445.48,664.26 445.94,658.04 446.40,651.83 446.87,645.61 447.33,639.40 447.87,634.11 448.41,632.94 448.96,626.63 449.50,622.00 449.93,624.48 450.36,631.40 450.80,633.68 451.23,639.07 451.66,642.01 452.21,640.35 452.75,635.05" fill="none" stroke="#b2b2d6" stroke-width="0.8" stroke-linejoin="round"/>
<g>
<path d="M452.1,548.4 C440,546.5 430,545 421,544.5 L416,546.5 C409,551 402,556 396,562 C393,565 391,568 391.5,571 C393,572.5 395,571 397,569 L401,565.5 C400,568 399.5,571.5 401,573.2 C403,574 405,572 407,569 L413,563 C416,560 419,557.5 421.5,555.3 C432,557.5 442,560.5 452.1,563.6 Z" fill="#dcb08e"/>
<path d="M421,546 C430,547.5 440,549 452.1,551 L452.1,548.4 C440,546.5 430,545 421,544.5Z" fill="#e8c4a4" opacity="0.7"/>
<ellipse cx="418" cy="546.6" rx="3.3" ry="1.8" fill="#3a3a3a" transform="rotate(-20 418 546.6)"/>
</g>
<line x1="262.5" y1="543.2" x2="452.2" y2="543.2" stroke="#222" stroke-width="1"/>
<line x1="262.5" y1="695.9" x2="452.2" y2="695.9" stroke="#222" stroke-width="1"/>
<line x1="262.5" y1="542.7" x2="262.5" y2="696.4" stroke="#222" stroke-width="1"/>
<line x1="452.2" y1="542.7" x2="452.2" y2="696.4" stroke="#222" stroke-width="1"/>
<line x1="262.5" y1="695.9" x2="262.5" y2="698.9" stroke="#222" stroke-width="1"/>
<text x="262.5" y="707.9" text-anchor="middle" class="tk">0</text>
<line x1="298.6" y1="695.9" x2="298.6" y2="698.9" stroke="#222" stroke-width="1"/>
<text x="298.6" y="707.9" text-anchor="middle" class="tk">10</text>
<line x1="334.7" y1="695.9" x2="334.7" y2="698.9" stroke="#222" stroke-width="1"/>
<text x="334.7" y="707.9" text-anchor="middle" class="tk">20</text>
<line x1="370.8" y1="695.9" x2="370.8" y2="698.9" stroke="#222" stroke-width="1"/>
<text x="370.8" y="707.9" text-anchor="middle" class="tk">30</text>
<line x1="406.9" y1="695.9" x2="406.9" y2="698.9" stroke="#222" stroke-width="1"/>
<text x="406.9" y="707.9" text-anchor="middle" class="tk">40</text>
<line x1="443.0" y1="695.9" x2="443.0" y2="698.9" stroke="#222" stroke-width="1"/>
<text x="443.0" y="707.9" text-anchor="middle" class="tk">50</text>
<line x1="280.6" y1="695.9" x2="280.6" y2="697.9" stroke="#222" stroke-width="1"/>
<line x1="316.6" y1="695.9" x2="316.6" y2="697.9" stroke="#222" stroke-width="1"/>
<line x1="352.8" y1="695.9" x2="352.8" y2="697.9" stroke="#222" stroke-width="1"/>
<line x1="388.9" y1="695.9" x2="388.9" y2="697.9" stroke="#222" stroke-width="1"/>
<line x1="424.9" y1="695.9" x2="424.9" y2="697.9" stroke="#222" stroke-width="1"/>
<line x1="259.5" y1="674.2" x2="262.5" y2="674.2" stroke="#222" stroke-width="1"/>
<text x="258.0" y="677.2" text-anchor="end" class="tk">0</text>
<line x1="259.5" y1="648.1" x2="262.5" y2="648.1" stroke="#222" stroke-width="1"/>
<text x="258.0" y="651.1" text-anchor="end" class="tk">30</text>
<line x1="259.5" y1="622.0" x2="262.5" y2="622.0" stroke="#222" stroke-width="1"/>
<text x="258.0" y="625.0" text-anchor="end" class="tk">60</text>
<line x1="259.5" y1="595.9" x2="262.5" y2="595.9" stroke="#222" stroke-width="1"/>
<text x="258.0" y="598.9" text-anchor="end" class="tk">90</text>
<line x1="259.5" y1="569.8" x2="262.5" y2="569.8" stroke="#222" stroke-width="1"/>
<text x="258.0" y="572.8" text-anchor="end" class="tk">120</text>
<line x1="259.5" y1="543.7" x2="262.5" y2="543.7" stroke="#222" stroke-width="1"/>
<text x="258.0" y="546.7" text-anchor="end" class="tk">150</text>
<line x1="260.5" y1="661.2" x2="262.5" y2="661.2" stroke="#222" stroke-width="1"/>
<line x1="260.5" y1="635.1" x2="262.5" y2="635.1" stroke="#222" stroke-width="1"/>
<line x1="260.5" y1="609.0" x2="262.5" y2="609.0" stroke="#222" stroke-width="1"/>
<line x1="260.5" y1="582.9" x2="262.5" y2="582.9" stroke="#222" stroke-width="1"/>
<line x1="260.5" y1="556.8" x2="262.5" y2="556.8" stroke="#222" stroke-width="1"/>
<line x1="260.5" y1="687.2" x2="262.5" y2="687.2" stroke="#222" stroke-width="1"/>
<text x="357.4" y="719.6" text-anchor="middle" class="at">Time (s)</text>
<text transform="translate(240.7,615.2) rotate(-90)" text-anchor="middle" class="at"><tspan font-weight="normal">Δ</tspan>I/I<tspan dy="2.5" font-size="7">0</tspan><tspan dy="-2.5"> (%)</tspan></text>
<text x="226.3" y="550" class="pl">g</text>
<clipPath id="cph"><rect x="492.6" y="543.2" width="189.60000000000002" height="152.5"/></clipPath>
<polyline clip-path="url(#cph)" points="492.60,661.87 493.52,641.30 494.35,635.19 495.22,582.88 495.97,686.90 496.96,637.56 497.78,669.15 498.63,645.95 499.46,638.87 500.41,580.26 501.17,686.45 502.28,627.68 503.10,665.08 503.94,647.01 504.62,632.86 505.72,581.51 506.31,685.18 507.37,632.14 508.14,669.57 509.11,643.10 509.90,638.25 510.85,578.67 511.56,688.11 512.51,635.44 513.42,667.28 514.35,639.09 515.22,640.78 516.18,582.88 516.88,685.65 517.89,628.31 518.80,660.01 519.71,644.16 520.56,633.53 521.61,578.64 522.27,685.84 523.36,631.57 524.32,665.06 525.42,644.57 526.08,634.63 527.10,581.85 527.87,688.58 528.96,638.60 529.76,663.42 530.61,646.25 531.47,636.21 532.54,581.56 533.16,686.29 534.15,636.99 535.12,661.93 535.98,642.20 536.84,635.65 537.96,578.17 538.62,686.24 539.57,630.10 540.39,660.54 541.34,641.53 542.12,637.53 543.24,579.20 544.00,685.37 544.95,636.67 545.71,664.32 546.73,640.80 547.48,636.80 548.42,582.40 549.07,688.69 550.03,633.87 550.79,668.79 551.64,644.38 552.30,639.10 553.19,582.76 553.88,688.86 554.83,632.91 555.80,668.09 556.74,649.39 557.63,633.81 558.71,582.58 559.46,687.46 560.52,631.77 561.39,664.03 562.48,641.63 563.19,639.32 564.12,582.97 564.81,684.61 565.65,632.21 566.56,669.53 567.57,638.79 568.39,642.44 569.27,581.93 569.95,686.50 571.06,630.21 572.06,664.60 573.17,643.17 573.98,638.08 574.87,582.11 575.57,684.72 576.66,630.75 577.43,664.83 578.47,650.27 579.35,640.56 580.44,580.15 581.06,688.61 582.03,633.44 583.02,667.83 584.04,647.81 584.74,638.64 585.65,580.30 586.34,688.21 587.37,634.64 588.37,664.26 589.44,646.20 590.31,638.66 591.31,580.56 592.07,685.47 592.90,638.54 593.83,667.61 594.94,648.60 595.62,638.99 596.70,581.13 597.42,688.54 598.44,634.11 599.33,661.62 600.45,647.47 601.13,640.62 602.16,580.22 602.75,685.80 603.67,633.94 604.42,669.05 605.38,639.20 606.08,638.86 607.02,582.30 607.61,686.81 608.54,637.21 609.38,664.51 610.25,646.79 611.05,642.21 611.90,581.36 612.57,688.43 613.57,630.90 614.50,669.49 615.52,641.88 616.25,638.86 617.10,582.52 617.72,686.21 618.83,635.04 619.77,665.12 620.72,640.98 621.42,638.30 622.53,578.09 623.28,688.73 624.26,631.58 625.24,665.53 626.31,646.15 627.00,634.96 627.89,578.84 628.58,687.05 629.44,633.59 630.41,660.74 631.47,639.49 632.26,640.00 633.12,578.78 633.73,688.28 634.59,630.11 635.57,662.30 636.68,639.13 637.43,636.97 638.43,578.42 639.08,688.55 640.20,638.50 641.11,661.35 641.96,640.30 642.63,632.62 643.69,581.15 644.30,686.29 645.27,632.83 646.26,662.98 647.13,645.87 647.96,638.27 648.96,579.28 649.56,687.14 650.55,633.69 651.45,660.18 652.51,649.32 653.28,636.50 654.39,580.50 654.99,686.06 656.00,630.16 656.78,666.51 657.79,647.62 658.54,640.16 659.47,582.42 660.14,685.86 661.17,628.89 662.15,662.43 663.27,647.02 664.02,640.11 664.94,581.91 665.62,686.79 666.58,631.42 667.42,661.82 668.35,640.22 669.06,641.52 670.11,582.11 670.72,688.91 671.74,632.89 672.66,660.36 673.74,643.89 674.47,637.57 675.44,577.94 676.09,686.02 677.06,630.93 677.87,661.02 678.86,639.44 679.65,638.41 680.63,581.70 681.37,686.19 682.28,633.03 683.13,667.83 683.96,649.01 684.69,639.21 685.65,578.26 686.24,685.31 687.08,627.45 687.90,660.05" fill="none" stroke="#f4cd84" stroke-width="0.7" stroke-linejoin="round"/>
<g>
<path d="M621,546 C624,543.8 630,544 634,546.5 L636,549 C650,551 665,553.5 681,556.3 L681,571.9 C665,569 648,563 632,558 C628,558.5 624,557.5 622,555 C620,552 620,548.5 621,546Z" fill="#d6aa8a"/>
<ellipse cx="626" cy="548" rx="1.5" ry="1.2" fill="#f4f0ea"/>
<rect x="668.8" y="558" width="4.9" height="3.6" fill="#3c3430"/>
</g>
<line x1="492.6" y1="543.2" x2="682.2" y2="543.2" stroke="#222" stroke-width="1"/>
<line x1="492.6" y1="695.7" x2="682.2" y2="695.7" stroke="#222" stroke-width="1"/>
<line x1="492.6" y1="542.7" x2="492.6" y2="696.2" stroke="#222" stroke-width="1"/>
<line x1="682.2" y1="542.7" x2="682.2" y2="696.2" stroke="#222" stroke-width="1"/>
<line x1="492.6" y1="695.7" x2="492.6" y2="698.7" stroke="#222" stroke-width="1"/>
<text x="492.6" y="707.7" text-anchor="middle" class="tk">0</text>
<line x1="531.5" y1="695.7" x2="531.5" y2="698.7" stroke="#222" stroke-width="1"/>
<text x="531.5" y="707.7" text-anchor="middle" class="tk">20</text>
<line x1="570.4" y1="695.7" x2="570.4" y2="698.7" stroke="#222" stroke-width="1"/>
<text x="570.4" y="707.7" text-anchor="middle" class="tk">40</text>
<line x1="609.3" y1="695.7" x2="609.3" y2="698.7" stroke="#222" stroke-width="1"/>
<text x="609.3" y="707.7" text-anchor="middle" class="tk">60</text>
<line x1="648.2" y1="695.7" x2="648.2" y2="698.7" stroke="#222" stroke-width="1"/>
<text x="648.2" y="707.7" text-anchor="middle" class="tk">80</text>
<line x1="512.1" y1="695.7" x2="512.1" y2="697.7" stroke="#222" stroke-width="1"/>
<line x1="551.0" y1="695.7" x2="551.0" y2="697.7" stroke="#222" stroke-width="1"/>
<line x1="589.9" y1="695.7" x2="589.9" y2="697.7" stroke="#222" stroke-width="1"/>
<line x1="628.8" y1="695.7" x2="628.8" y2="697.7" stroke="#222" stroke-width="1"/>
<line x1="667.7" y1="695.7" x2="667.7" y2="697.7" stroke="#222" stroke-width="1"/>
<line x1="489.6" y1="669.6" x2="492.6" y2="669.6" stroke="#222" stroke-width="1"/>
<text x="488.1" y="672.6" text-anchor="end" class="tk">0</text>
<line x1="489.6" y1="638.7" x2="492.6" y2="638.7" stroke="#222" stroke-width="1"/>
<text x="488.1" y="641.7" text-anchor="end" class="tk">40</text>
<line x1="489.6" y1="607.8" x2="492.6" y2="607.8" stroke="#222" stroke-width="1"/>
<text x="488.1" y="610.8" text-anchor="end" class="tk">80</text>
<line x1="489.6" y1="576.8" x2="492.6" y2="576.8" stroke="#222" stroke-width="1"/>
<text x="488.1" y="579.8" text-anchor="end" class="tk">120</text>
<line x1="489.6" y1="545.9" x2="492.6" y2="545.9" stroke="#222" stroke-width="1"/>
<text x="488.1" y="548.9" text-anchor="end" class="tk">160</text>
<line x1="490.6" y1="654.1" x2="492.6" y2="654.1" stroke="#222" stroke-width="1"/>
<line x1="490.6" y1="623.2" x2="492.6" y2="623.2" stroke="#222" stroke-width="1"/>
<line x1="490.6" y1="592.3" x2="492.6" y2="592.3" stroke="#222" stroke-width="1"/>
<line x1="490.6" y1="561.4" x2="492.6" y2="561.4" stroke="#222" stroke-width="1"/>
<line x1="490.6" y1="685.1" x2="492.6" y2="685.1" stroke="#222" stroke-width="1"/>
<text x="587.4" y="719.4" text-anchor="middle" class="at">Time (s)</text>
<text transform="translate(470,615) rotate(-90)" text-anchor="middle" class="at"><tspan font-weight="normal">Δ</tspan>I/I<tspan dy="2.5" font-size="7">0</tspan><tspan dy="-2.5"> (%)</tspan></text>
<text x="459" y="551.7" class="pl">h</text>
<clipPath id="cpi"><rect x="722.9" y="541.2" width="188.89999999999998" height="153.19999999999993"/></clipPath>
<polyline clip-path="url(#cpi)" points="722.90,680.20 724.17,678.27 725.45,676.03 726.73,674.82 728.00,667.69 728.96,667.04 729.91,670.47 730.87,670.90 731.82,669.78 732.76,664.54 733.69,657.64 734.63,651.71 735.82,648.98 737.01,646.60 738.20,644.06 739.26,643.45 740.32,639.65 741.39,638.50 742.66,632.94 743.60,625.24 744.53,618.11 745.47,609.59 746.46,606.32 747.44,606.47 748.43,604.99 749.42,604.17 750.36,603.61 751.29,601.99 752.23,602.36 753.31,596.17 754.39,593.33 756.05,603.75 757.58,671.72 758.77,671.20 759.96,669.71 761.15,671.86 762.21,672.17 763.27,665.56 764.34,664.91 765.40,666.12 766.46,668.50 767.52,667.69 768.42,668.29 769.31,667.23 770.20,670.61 771.10,668.36 771.99,669.78 772.88,670.40 773.77,670.01 774.66,671.08 775.56,671.12 776.45,673.25 777.73,674.19 779.00,674.36 780.53,686.59 781.46,674.87 782.40,663.15 783.34,651.43 784.32,646.39 785.31,637.67 786.30,632.13 787.29,627.38 788.31,621.33 789.33,617.69 790.35,613.31 791.37,608.34 792.71,605.61 794.04,600.28 795.06,600.55 796.09,599.40 797.11,599.27 798.12,599.58 799.40,591.24 800.36,591.00 801.31,591.94 802.40,634.54 803.48,677.14 804.82,673.99 806.16,669.78 807.16,670.35 808.15,671.19 809.15,671.05 810.15,667.95 811.15,671.32 812.15,669.08 813.17,668.95 814.19,668.64 815.21,667.64 816.23,669.94 817.25,670.47 818.27,669.00 819.29,669.12 820.31,669.10 821.33,669.12 822.35,668.38 823.31,668.23 824.26,668.81 825.22,667.72 826.17,669.08 827.83,664.91 828.98,656.07 830.13,646.26 831.27,638.50 832.55,619.04 833.19,624.60 834.59,621.82 835.58,617.64 836.57,615.40 837.55,615.90 838.54,612.09 839.52,611.44 840.50,610.69 841.48,610.70 842.43,608.66 843.39,603.21 844.34,602.20 845.30,594.99 846.57,603.75 847.51,628.21 848.44,652.68 849.38,677.14 850.40,676.53 851.42,676.72 852.44,673.92 853.46,673.45 854.48,674.47 855.50,671.86 856.46,671.34 857.41,671.51 858.37,670.27 859.32,669.78 860.22,670.46 861.11,669.86 862.00,668.55 862.89,666.30 863.91,668.48 864.93,668.04 865.95,672.84 866.98,672.56 867.93,673.52 868.89,672.07 869.84,672.69 870.80,673.95 871.78,675.92 872.75,674.90 873.73,677.14 874.67,672.30 875.60,670.07 876.54,664.91 877.81,630.16 878.77,626.05 879.73,620.43 880.75,613.65 881.76,608.34 882.75,606.96 883.74,605.70 884.73,606.06 885.72,605.14 886.64,602.19 887.57,598.47 888.49,595.11 889.41,592.07 891.20,609.31 892.48,610.98 894.00,683.95 894.90,684.96 895.79,689.08 896.68,687.85 897.75,686.52 898.82,681.99 899.90,679.98 900.97,678.34 902.04,674.36 903.15,673.40 904.27,674.29 905.38,673.73 906.50,673.25 907.56,675.29 908.62,673.25 909.69,673.95 910.64,672.33 911.60,672.56" fill="none" stroke="#b0b0d6" stroke-width="0.9" stroke-linejoin="round"/>
<g>
<path d="M862,580.7 C866,572 872,564 884,559.5 C895,556 905,553.5 911.7,553 L911.7,580.7Z" fill="#e6e4e0"/>
<path d="M875,542 L904,542 L905,552 C900,555 893,558 886,560 C880,557 876,550 875,542Z" fill="#e2bea6"/>
<path d="M898,542 L905,542 L904,547 C901,545 899,544 898,542Z" fill="#2a2420"/>
<ellipse cx="889.3" cy="555.5" rx="3.2" ry="2.6" fill="#1c1c1c"/>
<path d="M845,552 C843,556 846,561 850,564 L849,580.7 L860.5,580.7 L861,566 C866,562 869,555 869,546 C867,544 865,545 864,548 C862,551 859,553 856,553 Z" fill="#e6bfa4"/>
<path d="M859,544 L871,542.2 L868,547 L858,552Z" fill="#cfcfcf"/>
<ellipse cx="850.5" cy="549" rx="10" ry="7" fill="#1f2b40" transform="rotate(25 850.5 549)"/>
</g>
<line x1="722.9" y1="541.2" x2="911.8" y2="541.2" stroke="#222" stroke-width="1"/>
<line x1="722.9" y1="694.4" x2="911.8" y2="694.4" stroke="#222" stroke-width="1"/>
<line x1="722.9" y1="540.7" x2="722.9" y2="694.9" stroke="#222" stroke-width="1"/>
<line x1="911.8" y1="540.7" x2="911.8" y2="694.9" stroke="#222" stroke-width="1"/>
<line x1="722.9" y1="694.4" x2="722.9" y2="697.4" stroke="#222" stroke-width="1"/>
<text x="722.9" y="706.4" text-anchor="middle" class="tk">0</text>
<line x1="748.4" y1="694.4" x2="748.4" y2="697.4" stroke="#222" stroke-width="1"/>
<text x="748.4" y="706.4" text-anchor="middle" class="tk">2</text>
<line x1="773.9" y1="694.4" x2="773.9" y2="697.4" stroke="#222" stroke-width="1"/>
<text x="773.9" y="706.4" text-anchor="middle" class="tk">4</text>
<line x1="799.4" y1="694.4" x2="799.4" y2="697.4" stroke="#222" stroke-width="1"/>
<text x="799.4" y="706.4" text-anchor="middle" class="tk">6</text>
<line x1="824.9" y1="694.4" x2="824.9" y2="697.4" stroke="#222" stroke-width="1"/>
<text x="824.9" y="706.4" text-anchor="middle" class="tk">8</text>
<line x1="850.4" y1="694.4" x2="850.4" y2="697.4" stroke="#222" stroke-width="1"/>
<text x="850.4" y="706.4" text-anchor="middle" class="tk">10</text>
<line x1="875.9" y1="694.4" x2="875.9" y2="697.4" stroke="#222" stroke-width="1"/>
<text x="875.9" y="706.4" text-anchor="middle" class="tk">12</text>
<line x1="901.4" y1="694.4" x2="901.4" y2="697.4" stroke="#222" stroke-width="1"/>
<text x="901.4" y="706.4" text-anchor="middle" class="tk">14</text>
<line x1="735.6" y1="694.4" x2="735.6" y2="696.4" stroke="#222" stroke-width="1"/>
<line x1="761.1" y1="694.4" x2="761.1" y2="696.4" stroke="#222" stroke-width="1"/>
<line x1="786.6" y1="694.4" x2="786.6" y2="696.4" stroke="#222" stroke-width="1"/>
<line x1="812.1" y1="694.4" x2="812.1" y2="696.4" stroke="#222" stroke-width="1"/>
<line x1="837.6" y1="694.4" x2="837.6" y2="696.4" stroke="#222" stroke-width="1"/>
<line x1="863.1" y1="694.4" x2="863.1" y2="696.4" stroke="#222" stroke-width="1"/>
<line x1="888.6" y1="694.4" x2="888.6" y2="696.4" stroke="#222" stroke-width="1"/>
<line x1="719.9" y1="680.2" x2="722.9" y2="680.2" stroke="#222" stroke-width="1"/>
<text x="718.4" y="683.2" text-anchor="end" class="tk">0</text>
<line x1="719.9" y1="652.4" x2="722.9" y2="652.4" stroke="#222" stroke-width="1"/>
<text x="718.4" y="655.4" text-anchor="end" class="tk">2</text>
<line x1="719.9" y1="624.6" x2="722.9" y2="624.6" stroke="#222" stroke-width="1"/>
<text x="718.4" y="627.6" text-anchor="end" class="tk">4</text>
<line x1="719.9" y1="596.8" x2="722.9" y2="596.8" stroke="#222" stroke-width="1"/>
<text x="718.4" y="599.8" text-anchor="end" class="tk">6</text>
<line x1="719.9" y1="569.0" x2="722.9" y2="569.0" stroke="#222" stroke-width="1"/>
<text x="718.4" y="572.0" text-anchor="end" class="tk">8</text>
<line x1="719.9" y1="541.2" x2="722.9" y2="541.2" stroke="#222" stroke-width="1"/>
<text x="718.4" y="544.2" text-anchor="end" class="tk">10</text>
<line x1="720.9" y1="666.3" x2="722.9" y2="666.3" stroke="#222" stroke-width="1"/>
<line x1="720.9" y1="638.5" x2="722.9" y2="638.5" stroke="#222" stroke-width="1"/>
<line x1="720.9" y1="610.7" x2="722.9" y2="610.7" stroke="#222" stroke-width="1"/>
<line x1="720.9" y1="582.9" x2="722.9" y2="582.9" stroke="#222" stroke-width="1"/>
<line x1="720.9" y1="555.1" x2="722.9" y2="555.1" stroke="#222" stroke-width="1"/>
<line x1="720.9" y1="694.1" x2="722.9" y2="694.1" stroke="#222" stroke-width="1"/>
<text x="817.3" y="718.1" text-anchor="middle" class="at">Time (s)</text>
<text transform="translate(705.2,609.6) rotate(-90)" text-anchor="middle" class="at"><tspan font-weight="normal">Δ</tspan>I/I<tspan dy="2.5" font-size="7">0</tspan><tspan dy="-2.5"> (%)</tspan></text>
<text x="697.5" y="554.8" class="pl">i</text>
</svg></body></html>
